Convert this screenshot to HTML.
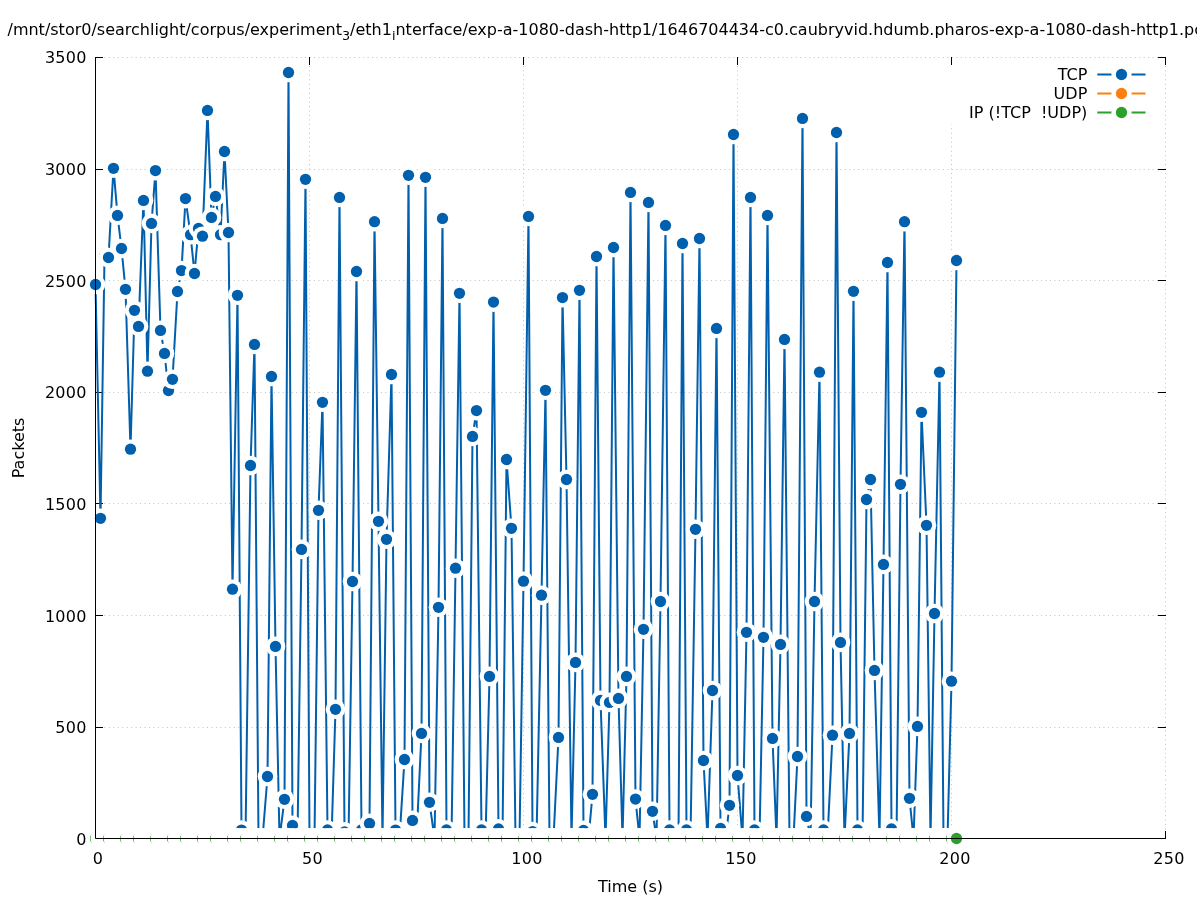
<!DOCTYPE html>
<html><head><meta charset="utf-8"><title>plot</title>
<style>
html,body{margin:0;padding:0;background:#fff;}
body{width:1197px;height:900px;overflow:hidden;}
svg{display:block;will-change:transform;}
text{font-family:"DejaVu Sans","Liberation Sans",sans-serif;fill:#000;}
</style></head><body>
<svg width="1197" height="900" viewBox="0 0 1197 900">
<rect x="0" y="0" width="1197" height="900" fill="#fff"/>
<g stroke="#c0c0c0" stroke-width="1" stroke-dasharray="1 3.46" fill="none">
<path d="M95.5 838.5H1165.5"/>
<path d="M95.5 727.5H1165.5"/>
<path d="M95.5 615.5H1165.5"/>
<path d="M95.5 503.5H1165.5"/>
<path d="M95.5 392.5H1165.5"/>
<path d="M95.5 280.5H1165.5"/>
<path d="M95.5 169.5H1165.5"/>
<path d="M95.5 57.5H1165.5"/>
<path d="M95.5 838.5V57.5"/>
<path d="M309.5 838.5V57.5"/>
<path d="M523.5 838.5V57.5"/>
<path d="M737.5 838.5V57.5"/>
<path d="M951.5 838.5V57.5"/>
<path d="M1165.5 838.5V57.5"/>
</g>
<g stroke="#000" stroke-width="1" fill="none">
<path d="M95.0 838.5h8M1166.0 838.5h-8"/>
<path d="M95.0 727.5h8M1166.0 727.5h-8"/>
<path d="M95.0 615.5h8M1166.0 615.5h-8"/>
<path d="M95.0 503.5h8M1166.0 503.5h-8"/>
<path d="M95.0 392.5h8M1166.0 392.5h-8"/>
<path d="M95.0 280.5h8M1166.0 280.5h-8"/>
<path d="M95.0 169.5h8M1166.0 169.5h-8"/>
<path d="M95.0 57.5h8M1166.0 57.5h-8"/>
<path d="M95.5 839.0v-8M95.5 57.0v8"/>
<path d="M309.5 839.0v-8M309.5 57.0v8"/>
<path d="M523.5 839.0v-8M523.5 57.0v8"/>
<path d="M737.5 839.0v-8M737.5 57.0v8"/>
<path d="M951.5 839.0v-8M951.5 57.0v8"/>
<path d="M1165.5 839.0v-8M1165.5 57.0v8"/>
</g>
<path d="M95.5 284.5 L100.5 518.3 L104.5 256.5 L108.5 257.5 L113.5 168.3 L117.5 215.4 L121.5 248.5 L125.5 289.3 L130.5 449.2 L134.5 310.3 L138.5 326.4 L143.5 200.4 L147.5 371.2 L151.5 223.4 L155.5 170.6 L160.5 330.4 L164.5 353.4 L168.5 390.5 L172.5 379.3 L177.5 291.5 L181.5 270.6 L185.5 198.6 L190.5 234.7 L194.5 273.5 L198.5 228.4 L202.5 236.2 L207.5 110.4 L211.5 217.4 L215.5 196.4 L220.5 234.7 L224.5 151.5 L228.5 232.5 L232.5 589.2 L237.5 295.3 L241.5 830.1 L245.5 838.5 L250.5 465.5 L254.5 344.4 L258.5 838.5 L262.5 838.5 L267.5 776.5 L271.5 376.5 L275.5 646.4 L279.5 838.5 L284.5 799.3 L288.5 72.5 L292.5 825.4 L297.5 838.5 L301.5 549.4 L305.5 179.3 L309.5 838.5 L314.5 838.5 L318.5 510.3 L322.5 402.3 L327.5 830 L331.5 838.5 L335.5 709.3 L339.5 197.4 L344.5 831.9 L348.5 838.5 L352.5 581.5 L356.5 271.5 L361.5 830 L365.5 838.5 L369.5 823.4 L374.5 221.7 L378.5 521.3 L382.5 838.5 L386.5 539.3 L391.5 374.5 L395.5 830.1 L399.5 838.5 L404.5 759.5 L408.5 175.3 L412.5 820.4 L416.5 838.5 L421.5 733.4 L425.5 177.3 L429.5 802.3 L434.5 838.5 L438.5 607.3 L442.5 218.4 L446.5 830 L451.5 838.5 L455.5 568.2 L459.5 293.3 L464.5 838.5 L468.5 838.5 L472.5 436.4 L476.5 410.6 L481.5 830 L485.5 838.5 L489.5 676.4 L493.5 302.1 L498.5 828.9 L502.5 838.5 L506.5 459.5 L511.5 528.3 L515.5 838.5 L519.5 838.5 L523.5 581.2 L528.5 216.4 L532.5 831.6 L536.5 838.5 L541.5 595.2 L545.5 390.3 L549.5 838.5 L553.5 838.5 L558.5 737.4 L562.5 297.6 L566.5 479.5 L571.5 838.5 L575.5 662.4 L579.5 290.3 L583.5 830.4 L588.5 838.5 L592.5 794.3 L596.5 256.5 L600.5 700.4 L605.5 838.5 L609.5 702.4 L613.5 247.5 L618.5 698.4 L622.5 838.5 L626.5 676.4 L630.5 192.4 L635.5 799.1 L639.5 838.5 L643.5 629.3 L648.5 202.4 L652.5 811.3 L656.5 838.5 L660.5 601.5 L665.5 225.4 L669.5 830 L673.5 838.5 L678.5 838.5 L682.5 243.5 L686.5 830 L690.5 838.5 L695.5 529.3 L699.5 238.5 L703.5 760.5 L707.5 838.5 L712.5 690.5 L716.5 328.4 L720.5 828.4 L725.5 838.5 L729.5 805.3 L733.5 134.5 L737.5 775.5 L742.5 838.5 L746.5 632.3 L750.5 197.4 L754.5 830 L759.5 838.5 L763.5 637.3 L767.5 215.4 L772.5 738.4 L776.5 838.5 L780.5 644.4 L784.5 339.4 L789.5 838.5 L793.5 838.5 L797.5 756.5 L802.5 118.4 L806.5 816.4 L810.5 838.5 L814.5 601.5 L819.5 372.2 L823.5 830 L827.5 838.5 L832.5 735.2 L836.5 132.5 L840.5 642.4 L844.5 838.5 L849.5 733.4 L853.5 291.3 L857.5 830 L862.5 838.5 L866.5 499.5 L870.5 479.5 L874.5 670.4 L879.5 838.5 L883.5 564.4 L887.5 262.5 L891.5 828.9 L896.5 838.5 L900.5 484.3 L904.5 221.7 L909.5 798.3 L913.5 838.5 L917.5 726.4 L921.5 412.3 L926.5 525.3 L930.5 838.5 L934.5 613.5 L939.5 372.2 L943.5 838.5 L947.5 838.5 L951.5 681.2 L956.5 260.5" fill="none" stroke="#0060ad" stroke-width="2" stroke-linejoin="round"/>
<g fill="#0060ad">
<circle cx="95.5" cy="284.5" r="9.8" fill="#fff"/><circle cx="95.5" cy="284.5" r="5.64"/>
<circle cx="100.5" cy="518.3" r="9.8" fill="#fff"/><circle cx="100.5" cy="518.3" r="5.64"/>
<circle cx="104.5" cy="256.5" r="9.8" fill="#fff"/><circle cx="104.5" cy="256.5" r="5.64"/>
<circle cx="108.5" cy="257.5" r="9.8" fill="#fff"/><circle cx="108.5" cy="257.5" r="5.64"/>
<circle cx="113.5" cy="168.3" r="9.8" fill="#fff"/><circle cx="113.5" cy="168.3" r="5.64"/>
<circle cx="117.5" cy="215.4" r="9.8" fill="#fff"/><circle cx="117.5" cy="215.4" r="5.64"/>
<circle cx="121.5" cy="248.5" r="9.8" fill="#fff"/><circle cx="121.5" cy="248.5" r="5.64"/>
<circle cx="125.5" cy="289.3" r="9.8" fill="#fff"/><circle cx="125.5" cy="289.3" r="5.64"/>
<circle cx="130.5" cy="449.2" r="9.8" fill="#fff"/><circle cx="130.5" cy="449.2" r="5.64"/>
<circle cx="134.5" cy="310.3" r="9.8" fill="#fff"/><circle cx="134.5" cy="310.3" r="5.64"/>
<circle cx="138.5" cy="326.4" r="9.8" fill="#fff"/><circle cx="138.5" cy="326.4" r="5.64"/>
<circle cx="143.5" cy="200.4" r="9.8" fill="#fff"/><circle cx="143.5" cy="200.4" r="5.64"/>
<circle cx="147.5" cy="371.2" r="9.8" fill="#fff"/><circle cx="147.5" cy="371.2" r="5.64"/>
<circle cx="151.5" cy="223.4" r="9.8" fill="#fff"/><circle cx="151.5" cy="223.4" r="5.64"/>
<circle cx="155.5" cy="170.6" r="9.8" fill="#fff"/><circle cx="155.5" cy="170.6" r="5.64"/>
<circle cx="160.5" cy="330.4" r="9.8" fill="#fff"/><circle cx="160.5" cy="330.4" r="5.64"/>
<circle cx="164.5" cy="353.4" r="9.8" fill="#fff"/><circle cx="164.5" cy="353.4" r="5.64"/>
<circle cx="168.5" cy="390.5" r="9.8" fill="#fff"/><circle cx="168.5" cy="390.5" r="5.64"/>
<circle cx="172.5" cy="379.3" r="9.8" fill="#fff"/><circle cx="172.5" cy="379.3" r="5.64"/>
<circle cx="177.5" cy="291.5" r="9.8" fill="#fff"/><circle cx="177.5" cy="291.5" r="5.64"/>
<circle cx="181.5" cy="270.6" r="9.8" fill="#fff"/><circle cx="181.5" cy="270.6" r="5.64"/>
<circle cx="185.5" cy="198.6" r="9.8" fill="#fff"/><circle cx="185.5" cy="198.6" r="5.64"/>
<circle cx="190.5" cy="234.7" r="9.8" fill="#fff"/><circle cx="190.5" cy="234.7" r="5.64"/>
<circle cx="194.5" cy="273.5" r="9.8" fill="#fff"/><circle cx="194.5" cy="273.5" r="5.64"/>
<circle cx="198.5" cy="228.4" r="9.8" fill="#fff"/><circle cx="198.5" cy="228.4" r="5.64"/>
<circle cx="202.5" cy="236.2" r="9.8" fill="#fff"/><circle cx="202.5" cy="236.2" r="5.64"/>
<circle cx="207.5" cy="110.4" r="9.8" fill="#fff"/><circle cx="207.5" cy="110.4" r="5.64"/>
<circle cx="211.5" cy="217.4" r="9.8" fill="#fff"/><circle cx="211.5" cy="217.4" r="5.64"/>
<circle cx="215.5" cy="196.4" r="9.8" fill="#fff"/><circle cx="215.5" cy="196.4" r="5.64"/>
<circle cx="220.5" cy="234.7" r="9.8" fill="#fff"/><circle cx="220.5" cy="234.7" r="5.64"/>
<circle cx="224.5" cy="151.5" r="9.8" fill="#fff"/><circle cx="224.5" cy="151.5" r="5.64"/>
<circle cx="228.5" cy="232.5" r="9.8" fill="#fff"/><circle cx="228.5" cy="232.5" r="5.64"/>
<circle cx="232.5" cy="589.2" r="9.8" fill="#fff"/><circle cx="232.5" cy="589.2" r="5.64"/>
<circle cx="237.5" cy="295.3" r="9.8" fill="#fff"/><circle cx="237.5" cy="295.3" r="5.64"/>
<circle cx="241.5" cy="830.1" r="9.8" fill="#fff"/><circle cx="241.5" cy="830.1" r="5.64"/>
<circle cx="245.5" cy="838.5" r="9.8" fill="#fff"/><circle cx="245.5" cy="838.5" r="5.64"/>
<circle cx="250.5" cy="465.5" r="9.8" fill="#fff"/><circle cx="250.5" cy="465.5" r="5.64"/>
<circle cx="254.5" cy="344.4" r="9.8" fill="#fff"/><circle cx="254.5" cy="344.4" r="5.64"/>
<circle cx="258.5" cy="838.5" r="9.8" fill="#fff"/><circle cx="258.5" cy="838.5" r="5.64"/>
<circle cx="262.5" cy="838.5" r="9.8" fill="#fff"/><circle cx="262.5" cy="838.5" r="5.64"/>
<circle cx="267.5" cy="776.5" r="9.8" fill="#fff"/><circle cx="267.5" cy="776.5" r="5.64"/>
<circle cx="271.5" cy="376.5" r="9.8" fill="#fff"/><circle cx="271.5" cy="376.5" r="5.64"/>
<circle cx="275.5" cy="646.4" r="9.8" fill="#fff"/><circle cx="275.5" cy="646.4" r="5.64"/>
<circle cx="279.5" cy="838.5" r="9.8" fill="#fff"/><circle cx="279.5" cy="838.5" r="5.64"/>
<circle cx="284.5" cy="799.3" r="9.8" fill="#fff"/><circle cx="284.5" cy="799.3" r="5.64"/>
<circle cx="288.5" cy="72.5" r="9.8" fill="#fff"/><circle cx="288.5" cy="72.5" r="5.64"/>
<circle cx="292.5" cy="825.4" r="9.8" fill="#fff"/><circle cx="292.5" cy="825.4" r="5.64"/>
<circle cx="297.5" cy="838.5" r="9.8" fill="#fff"/><circle cx="297.5" cy="838.5" r="5.64"/>
<circle cx="301.5" cy="549.4" r="9.8" fill="#fff"/><circle cx="301.5" cy="549.4" r="5.64"/>
<circle cx="305.5" cy="179.3" r="9.8" fill="#fff"/><circle cx="305.5" cy="179.3" r="5.64"/>
<circle cx="309.5" cy="838.5" r="9.8" fill="#fff"/><circle cx="309.5" cy="838.5" r="5.64"/>
<circle cx="314.5" cy="838.5" r="9.8" fill="#fff"/><circle cx="314.5" cy="838.5" r="5.64"/>
<circle cx="318.5" cy="510.3" r="9.8" fill="#fff"/><circle cx="318.5" cy="510.3" r="5.64"/>
<circle cx="322.5" cy="402.3" r="9.8" fill="#fff"/><circle cx="322.5" cy="402.3" r="5.64"/>
<circle cx="327.5" cy="830" r="9.8" fill="#fff"/><circle cx="327.5" cy="830" r="5.64"/>
<circle cx="331.5" cy="838.5" r="9.8" fill="#fff"/><circle cx="331.5" cy="838.5" r="5.64"/>
<circle cx="335.5" cy="709.3" r="9.8" fill="#fff"/><circle cx="335.5" cy="709.3" r="5.64"/>
<circle cx="339.5" cy="197.4" r="9.8" fill="#fff"/><circle cx="339.5" cy="197.4" r="5.64"/>
<circle cx="344.5" cy="831.9" r="9.8" fill="#fff"/><circle cx="344.5" cy="831.9" r="5.64"/>
<circle cx="348.5" cy="838.5" r="9.8" fill="#fff"/><circle cx="348.5" cy="838.5" r="5.64"/>
<circle cx="352.5" cy="581.5" r="9.8" fill="#fff"/><circle cx="352.5" cy="581.5" r="5.64"/>
<circle cx="356.5" cy="271.5" r="9.8" fill="#fff"/><circle cx="356.5" cy="271.5" r="5.64"/>
<circle cx="361.5" cy="830" r="9.8" fill="#fff"/><circle cx="361.5" cy="830" r="5.64"/>
<circle cx="365.5" cy="838.5" r="9.8" fill="#fff"/><circle cx="365.5" cy="838.5" r="5.64"/>
<circle cx="369.5" cy="823.4" r="9.8" fill="#fff"/><circle cx="369.5" cy="823.4" r="5.64"/>
<circle cx="374.5" cy="221.7" r="9.8" fill="#fff"/><circle cx="374.5" cy="221.7" r="5.64"/>
<circle cx="378.5" cy="521.3" r="9.8" fill="#fff"/><circle cx="378.5" cy="521.3" r="5.64"/>
<circle cx="382.5" cy="838.5" r="9.8" fill="#fff"/><circle cx="382.5" cy="838.5" r="5.64"/>
<circle cx="386.5" cy="539.3" r="9.8" fill="#fff"/><circle cx="386.5" cy="539.3" r="5.64"/>
<circle cx="391.5" cy="374.5" r="9.8" fill="#fff"/><circle cx="391.5" cy="374.5" r="5.64"/>
<circle cx="395.5" cy="830.1" r="9.8" fill="#fff"/><circle cx="395.5" cy="830.1" r="5.64"/>
<circle cx="399.5" cy="838.5" r="9.8" fill="#fff"/><circle cx="399.5" cy="838.5" r="5.64"/>
<circle cx="404.5" cy="759.5" r="9.8" fill="#fff"/><circle cx="404.5" cy="759.5" r="5.64"/>
<circle cx="408.5" cy="175.3" r="9.8" fill="#fff"/><circle cx="408.5" cy="175.3" r="5.64"/>
<circle cx="412.5" cy="820.4" r="9.8" fill="#fff"/><circle cx="412.5" cy="820.4" r="5.64"/>
<circle cx="416.5" cy="838.5" r="9.8" fill="#fff"/><circle cx="416.5" cy="838.5" r="5.64"/>
<circle cx="421.5" cy="733.4" r="9.8" fill="#fff"/><circle cx="421.5" cy="733.4" r="5.64"/>
<circle cx="425.5" cy="177.3" r="9.8" fill="#fff"/><circle cx="425.5" cy="177.3" r="5.64"/>
<circle cx="429.5" cy="802.3" r="9.8" fill="#fff"/><circle cx="429.5" cy="802.3" r="5.64"/>
<circle cx="434.5" cy="838.5" r="9.8" fill="#fff"/><circle cx="434.5" cy="838.5" r="5.64"/>
<circle cx="438.5" cy="607.3" r="9.8" fill="#fff"/><circle cx="438.5" cy="607.3" r="5.64"/>
<circle cx="442.5" cy="218.4" r="9.8" fill="#fff"/><circle cx="442.5" cy="218.4" r="5.64"/>
<circle cx="446.5" cy="830" r="9.8" fill="#fff"/><circle cx="446.5" cy="830" r="5.64"/>
<circle cx="451.5" cy="838.5" r="9.8" fill="#fff"/><circle cx="451.5" cy="838.5" r="5.64"/>
<circle cx="455.5" cy="568.2" r="9.8" fill="#fff"/><circle cx="455.5" cy="568.2" r="5.64"/>
<circle cx="459.5" cy="293.3" r="9.8" fill="#fff"/><circle cx="459.5" cy="293.3" r="5.64"/>
<circle cx="464.5" cy="838.5" r="9.8" fill="#fff"/><circle cx="464.5" cy="838.5" r="5.64"/>
<circle cx="468.5" cy="838.5" r="9.8" fill="#fff"/><circle cx="468.5" cy="838.5" r="5.64"/>
<circle cx="472.5" cy="436.4" r="9.8" fill="#fff"/><circle cx="472.5" cy="436.4" r="5.64"/>
<circle cx="476.5" cy="410.6" r="9.8" fill="#fff"/><circle cx="476.5" cy="410.6" r="5.64"/>
<circle cx="481.5" cy="830" r="9.8" fill="#fff"/><circle cx="481.5" cy="830" r="5.64"/>
<circle cx="485.5" cy="838.5" r="9.8" fill="#fff"/><circle cx="485.5" cy="838.5" r="5.64"/>
<circle cx="489.5" cy="676.4" r="9.8" fill="#fff"/><circle cx="489.5" cy="676.4" r="5.64"/>
<circle cx="493.5" cy="302.1" r="9.8" fill="#fff"/><circle cx="493.5" cy="302.1" r="5.64"/>
<circle cx="498.5" cy="828.9" r="9.8" fill="#fff"/><circle cx="498.5" cy="828.9" r="5.64"/>
<circle cx="502.5" cy="838.5" r="9.8" fill="#fff"/><circle cx="502.5" cy="838.5" r="5.64"/>
<circle cx="506.5" cy="459.5" r="9.8" fill="#fff"/><circle cx="506.5" cy="459.5" r="5.64"/>
<circle cx="511.5" cy="528.3" r="9.8" fill="#fff"/><circle cx="511.5" cy="528.3" r="5.64"/>
<circle cx="515.5" cy="838.5" r="9.8" fill="#fff"/><circle cx="515.5" cy="838.5" r="5.64"/>
<circle cx="519.5" cy="838.5" r="9.8" fill="#fff"/><circle cx="519.5" cy="838.5" r="5.64"/>
<circle cx="523.5" cy="581.2" r="9.8" fill="#fff"/><circle cx="523.5" cy="581.2" r="5.64"/>
<circle cx="528.5" cy="216.4" r="9.8" fill="#fff"/><circle cx="528.5" cy="216.4" r="5.64"/>
<circle cx="532.5" cy="831.6" r="9.8" fill="#fff"/><circle cx="532.5" cy="831.6" r="5.64"/>
<circle cx="536.5" cy="838.5" r="9.8" fill="#fff"/><circle cx="536.5" cy="838.5" r="5.64"/>
<circle cx="541.5" cy="595.2" r="9.8" fill="#fff"/><circle cx="541.5" cy="595.2" r="5.64"/>
<circle cx="545.5" cy="390.3" r="9.8" fill="#fff"/><circle cx="545.5" cy="390.3" r="5.64"/>
<circle cx="549.5" cy="838.5" r="9.8" fill="#fff"/><circle cx="549.5" cy="838.5" r="5.64"/>
<circle cx="553.5" cy="838.5" r="9.8" fill="#fff"/><circle cx="553.5" cy="838.5" r="5.64"/>
<circle cx="558.5" cy="737.4" r="9.8" fill="#fff"/><circle cx="558.5" cy="737.4" r="5.64"/>
<circle cx="562.5" cy="297.6" r="9.8" fill="#fff"/><circle cx="562.5" cy="297.6" r="5.64"/>
<circle cx="566.5" cy="479.5" r="9.8" fill="#fff"/><circle cx="566.5" cy="479.5" r="5.64"/>
<circle cx="571.5" cy="838.5" r="9.8" fill="#fff"/><circle cx="571.5" cy="838.5" r="5.64"/>
<circle cx="575.5" cy="662.4" r="9.8" fill="#fff"/><circle cx="575.5" cy="662.4" r="5.64"/>
<circle cx="579.5" cy="290.3" r="9.8" fill="#fff"/><circle cx="579.5" cy="290.3" r="5.64"/>
<circle cx="583.5" cy="830.4" r="9.8" fill="#fff"/><circle cx="583.5" cy="830.4" r="5.64"/>
<circle cx="588.5" cy="838.5" r="9.8" fill="#fff"/><circle cx="588.5" cy="838.5" r="5.64"/>
<circle cx="592.5" cy="794.3" r="9.8" fill="#fff"/><circle cx="592.5" cy="794.3" r="5.64"/>
<circle cx="596.5" cy="256.5" r="9.8" fill="#fff"/><circle cx="596.5" cy="256.5" r="5.64"/>
<circle cx="600.5" cy="700.4" r="9.8" fill="#fff"/><circle cx="600.5" cy="700.4" r="5.64"/>
<circle cx="605.5" cy="838.5" r="9.8" fill="#fff"/><circle cx="605.5" cy="838.5" r="5.64"/>
<circle cx="609.5" cy="702.4" r="9.8" fill="#fff"/><circle cx="609.5" cy="702.4" r="5.64"/>
<circle cx="613.5" cy="247.5" r="9.8" fill="#fff"/><circle cx="613.5" cy="247.5" r="5.64"/>
<circle cx="618.5" cy="698.4" r="9.8" fill="#fff"/><circle cx="618.5" cy="698.4" r="5.64"/>
<circle cx="622.5" cy="838.5" r="9.8" fill="#fff"/><circle cx="622.5" cy="838.5" r="5.64"/>
<circle cx="626.5" cy="676.4" r="9.8" fill="#fff"/><circle cx="626.5" cy="676.4" r="5.64"/>
<circle cx="630.5" cy="192.4" r="9.8" fill="#fff"/><circle cx="630.5" cy="192.4" r="5.64"/>
<circle cx="635.5" cy="799.1" r="9.8" fill="#fff"/><circle cx="635.5" cy="799.1" r="5.64"/>
<circle cx="639.5" cy="838.5" r="9.8" fill="#fff"/><circle cx="639.5" cy="838.5" r="5.64"/>
<circle cx="643.5" cy="629.3" r="9.8" fill="#fff"/><circle cx="643.5" cy="629.3" r="5.64"/>
<circle cx="648.5" cy="202.4" r="9.8" fill="#fff"/><circle cx="648.5" cy="202.4" r="5.64"/>
<circle cx="652.5" cy="811.3" r="9.8" fill="#fff"/><circle cx="652.5" cy="811.3" r="5.64"/>
<circle cx="656.5" cy="838.5" r="9.8" fill="#fff"/><circle cx="656.5" cy="838.5" r="5.64"/>
<circle cx="660.5" cy="601.5" r="9.8" fill="#fff"/><circle cx="660.5" cy="601.5" r="5.64"/>
<circle cx="665.5" cy="225.4" r="9.8" fill="#fff"/><circle cx="665.5" cy="225.4" r="5.64"/>
<circle cx="669.5" cy="830" r="9.8" fill="#fff"/><circle cx="669.5" cy="830" r="5.64"/>
<circle cx="673.5" cy="838.5" r="9.8" fill="#fff"/><circle cx="673.5" cy="838.5" r="5.64"/>
<circle cx="678.5" cy="838.5" r="9.8" fill="#fff"/><circle cx="678.5" cy="838.5" r="5.64"/>
<circle cx="682.5" cy="243.5" r="9.8" fill="#fff"/><circle cx="682.5" cy="243.5" r="5.64"/>
<circle cx="686.5" cy="830" r="9.8" fill="#fff"/><circle cx="686.5" cy="830" r="5.64"/>
<circle cx="690.5" cy="838.5" r="9.8" fill="#fff"/><circle cx="690.5" cy="838.5" r="5.64"/>
<circle cx="695.5" cy="529.3" r="9.8" fill="#fff"/><circle cx="695.5" cy="529.3" r="5.64"/>
<circle cx="699.5" cy="238.5" r="9.8" fill="#fff"/><circle cx="699.5" cy="238.5" r="5.64"/>
<circle cx="703.5" cy="760.5" r="9.8" fill="#fff"/><circle cx="703.5" cy="760.5" r="5.64"/>
<circle cx="707.5" cy="838.5" r="9.8" fill="#fff"/><circle cx="707.5" cy="838.5" r="5.64"/>
<circle cx="712.5" cy="690.5" r="9.8" fill="#fff"/><circle cx="712.5" cy="690.5" r="5.64"/>
<circle cx="716.5" cy="328.4" r="9.8" fill="#fff"/><circle cx="716.5" cy="328.4" r="5.64"/>
<circle cx="720.5" cy="828.4" r="9.8" fill="#fff"/><circle cx="720.5" cy="828.4" r="5.64"/>
<circle cx="725.5" cy="838.5" r="9.8" fill="#fff"/><circle cx="725.5" cy="838.5" r="5.64"/>
<circle cx="729.5" cy="805.3" r="9.8" fill="#fff"/><circle cx="729.5" cy="805.3" r="5.64"/>
<circle cx="733.5" cy="134.5" r="9.8" fill="#fff"/><circle cx="733.5" cy="134.5" r="5.64"/>
<circle cx="737.5" cy="775.5" r="9.8" fill="#fff"/><circle cx="737.5" cy="775.5" r="5.64"/>
<circle cx="742.5" cy="838.5" r="9.8" fill="#fff"/><circle cx="742.5" cy="838.5" r="5.64"/>
<circle cx="746.5" cy="632.3" r="9.8" fill="#fff"/><circle cx="746.5" cy="632.3" r="5.64"/>
<circle cx="750.5" cy="197.4" r="9.8" fill="#fff"/><circle cx="750.5" cy="197.4" r="5.64"/>
<circle cx="754.5" cy="830" r="9.8" fill="#fff"/><circle cx="754.5" cy="830" r="5.64"/>
<circle cx="759.5" cy="838.5" r="9.8" fill="#fff"/><circle cx="759.5" cy="838.5" r="5.64"/>
<circle cx="763.5" cy="637.3" r="9.8" fill="#fff"/><circle cx="763.5" cy="637.3" r="5.64"/>
<circle cx="767.5" cy="215.4" r="9.8" fill="#fff"/><circle cx="767.5" cy="215.4" r="5.64"/>
<circle cx="772.5" cy="738.4" r="9.8" fill="#fff"/><circle cx="772.5" cy="738.4" r="5.64"/>
<circle cx="776.5" cy="838.5" r="9.8" fill="#fff"/><circle cx="776.5" cy="838.5" r="5.64"/>
<circle cx="780.5" cy="644.4" r="9.8" fill="#fff"/><circle cx="780.5" cy="644.4" r="5.64"/>
<circle cx="784.5" cy="339.4" r="9.8" fill="#fff"/><circle cx="784.5" cy="339.4" r="5.64"/>
<circle cx="789.5" cy="838.5" r="9.8" fill="#fff"/><circle cx="789.5" cy="838.5" r="5.64"/>
<circle cx="793.5" cy="838.5" r="9.8" fill="#fff"/><circle cx="793.5" cy="838.5" r="5.64"/>
<circle cx="797.5" cy="756.5" r="9.8" fill="#fff"/><circle cx="797.5" cy="756.5" r="5.64"/>
<circle cx="802.5" cy="118.4" r="9.8" fill="#fff"/><circle cx="802.5" cy="118.4" r="5.64"/>
<circle cx="806.5" cy="816.4" r="9.8" fill="#fff"/><circle cx="806.5" cy="816.4" r="5.64"/>
<circle cx="810.5" cy="838.5" r="9.8" fill="#fff"/><circle cx="810.5" cy="838.5" r="5.64"/>
<circle cx="814.5" cy="601.5" r="9.8" fill="#fff"/><circle cx="814.5" cy="601.5" r="5.64"/>
<circle cx="819.5" cy="372.2" r="9.8" fill="#fff"/><circle cx="819.5" cy="372.2" r="5.64"/>
<circle cx="823.5" cy="830" r="9.8" fill="#fff"/><circle cx="823.5" cy="830" r="5.64"/>
<circle cx="827.5" cy="838.5" r="9.8" fill="#fff"/><circle cx="827.5" cy="838.5" r="5.64"/>
<circle cx="832.5" cy="735.2" r="9.8" fill="#fff"/><circle cx="832.5" cy="735.2" r="5.64"/>
<circle cx="836.5" cy="132.5" r="9.8" fill="#fff"/><circle cx="836.5" cy="132.5" r="5.64"/>
<circle cx="840.5" cy="642.4" r="9.8" fill="#fff"/><circle cx="840.5" cy="642.4" r="5.64"/>
<circle cx="844.5" cy="838.5" r="9.8" fill="#fff"/><circle cx="844.5" cy="838.5" r="5.64"/>
<circle cx="849.5" cy="733.4" r="9.8" fill="#fff"/><circle cx="849.5" cy="733.4" r="5.64"/>
<circle cx="853.5" cy="291.3" r="9.8" fill="#fff"/><circle cx="853.5" cy="291.3" r="5.64"/>
<circle cx="857.5" cy="830" r="9.8" fill="#fff"/><circle cx="857.5" cy="830" r="5.64"/>
<circle cx="862.5" cy="838.5" r="9.8" fill="#fff"/><circle cx="862.5" cy="838.5" r="5.64"/>
<circle cx="866.5" cy="499.5" r="9.8" fill="#fff"/><circle cx="866.5" cy="499.5" r="5.64"/>
<circle cx="870.5" cy="479.5" r="9.8" fill="#fff"/><circle cx="870.5" cy="479.5" r="5.64"/>
<circle cx="874.5" cy="670.4" r="9.8" fill="#fff"/><circle cx="874.5" cy="670.4" r="5.64"/>
<circle cx="879.5" cy="838.5" r="9.8" fill="#fff"/><circle cx="879.5" cy="838.5" r="5.64"/>
<circle cx="883.5" cy="564.4" r="9.8" fill="#fff"/><circle cx="883.5" cy="564.4" r="5.64"/>
<circle cx="887.5" cy="262.5" r="9.8" fill="#fff"/><circle cx="887.5" cy="262.5" r="5.64"/>
<circle cx="891.5" cy="828.9" r="9.8" fill="#fff"/><circle cx="891.5" cy="828.9" r="5.64"/>
<circle cx="896.5" cy="838.5" r="9.8" fill="#fff"/><circle cx="896.5" cy="838.5" r="5.64"/>
<circle cx="900.5" cy="484.3" r="9.8" fill="#fff"/><circle cx="900.5" cy="484.3" r="5.64"/>
<circle cx="904.5" cy="221.7" r="9.8" fill="#fff"/><circle cx="904.5" cy="221.7" r="5.64"/>
<circle cx="909.5" cy="798.3" r="9.8" fill="#fff"/><circle cx="909.5" cy="798.3" r="5.64"/>
<circle cx="913.5" cy="838.5" r="9.8" fill="#fff"/><circle cx="913.5" cy="838.5" r="5.64"/>
<circle cx="917.5" cy="726.4" r="9.8" fill="#fff"/><circle cx="917.5" cy="726.4" r="5.64"/>
<circle cx="921.5" cy="412.3" r="9.8" fill="#fff"/><circle cx="921.5" cy="412.3" r="5.64"/>
<circle cx="926.5" cy="525.3" r="9.8" fill="#fff"/><circle cx="926.5" cy="525.3" r="5.64"/>
<circle cx="930.5" cy="838.5" r="9.8" fill="#fff"/><circle cx="930.5" cy="838.5" r="5.64"/>
<circle cx="934.5" cy="613.5" r="9.8" fill="#fff"/><circle cx="934.5" cy="613.5" r="5.64"/>
<circle cx="939.5" cy="372.2" r="9.8" fill="#fff"/><circle cx="939.5" cy="372.2" r="5.64"/>
<circle cx="943.5" cy="838.5" r="9.8" fill="#fff"/><circle cx="943.5" cy="838.5" r="5.64"/>
<circle cx="947.5" cy="838.5" r="9.8" fill="#fff"/><circle cx="947.5" cy="838.5" r="5.64"/>
<circle cx="951.5" cy="681.2" r="9.8" fill="#fff"/><circle cx="951.5" cy="681.2" r="5.64"/>
<circle cx="956.5" cy="260.5" r="9.8" fill="#fff"/><circle cx="956.5" cy="260.5" r="5.64"/>
</g>
<path d="M95.5 838 L100.5 838 L104.5 838 L108.5 838 L113.5 838 L117.5 838 L121.5 838 L125.5 838 L130.5 838 L134.5 838 L138.5 838 L143.5 838 L147.5 838 L151.5 838 L155.5 838 L160.5 838 L164.5 838 L168.5 838 L172.5 838 L177.5 838 L181.5 838 L185.5 838 L190.5 838 L194.5 838 L198.5 838 L202.5 838 L207.5 838 L211.5 838 L215.5 838 L220.5 838 L224.5 838 L228.5 838 L232.5 838 L237.5 838 L241.5 838 L245.5 838 L250.5 838 L254.5 838 L258.5 838 L262.5 838 L267.5 838 L271.5 838 L275.5 838 L279.5 838 L284.5 838 L288.5 838 L292.5 838 L297.5 838 L301.5 838 L305.5 838 L309.5 838 L314.5 838 L318.5 838 L322.5 838 L327.5 838 L331.5 838 L335.5 838 L339.5 838 L344.5 838 L348.5 838 L352.5 838 L356.5 838 L361.5 838 L365.5 838 L369.5 838 L374.5 838 L378.5 838 L382.5 838 L386.5 838 L391.5 838 L395.5 838 L399.5 838 L404.5 838 L408.5 838 L412.5 838 L416.5 838 L421.5 838 L425.5 838 L429.5 838 L434.5 838 L438.5 838 L442.5 838 L446.5 838 L451.5 838 L455.5 838 L459.5 838 L464.5 838 L468.5 838 L472.5 838 L476.5 838 L481.5 838 L485.5 838 L489.5 838 L493.5 838 L498.5 838 L502.5 838 L506.5 838 L511.5 838 L515.5 838 L519.5 838 L523.5 838 L528.5 838 L532.5 838 L536.5 838 L541.5 838 L545.5 838 L549.5 838 L553.5 838 L558.5 838 L562.5 838 L566.5 838 L571.5 838 L575.5 838 L579.5 838 L583.5 838 L588.5 838 L592.5 838 L596.5 838 L600.5 838 L605.5 838 L609.5 838 L613.5 838 L618.5 838 L622.5 838 L626.5 838 L630.5 838 L635.5 838 L639.5 838 L643.5 838 L648.5 838 L652.5 838 L656.5 838 L660.5 838 L665.5 838 L669.5 838 L673.5 838 L678.5 838 L682.5 838 L686.5 838 L690.5 838 L695.5 838 L699.5 838 L703.5 838 L707.5 838 L712.5 838 L716.5 838 L720.5 838 L725.5 838 L729.5 838 L733.5 838 L737.5 838 L742.5 838 L746.5 838 L750.5 838 L754.5 838 L759.5 838 L763.5 838 L767.5 838 L772.5 838 L776.5 838 L780.5 838 L784.5 838 L789.5 838 L793.5 838 L797.5 838 L802.5 838 L806.5 838 L810.5 838 L814.5 838 L819.5 838 L823.5 838 L827.5 838 L832.5 838 L836.5 838 L840.5 838 L844.5 838 L849.5 838 L853.5 838 L857.5 838 L862.5 838 L866.5 838 L870.5 838 L874.5 838 L879.5 838 L883.5 838 L887.5 838 L891.5 838 L896.5 838 L900.5 838 L904.5 838 L909.5 838 L913.5 838 L917.5 838 L921.5 838 L926.5 838 L930.5 838 L934.5 838 L939.5 838 L943.5 838 L947.5 838 L951.5 838 L956.5 838" fill="none" stroke="#ff7f0e" stroke-width="2" stroke-linejoin="round"/>
<g fill="#ff7f0e">
<circle cx="95.5" cy="838" r="10.0" fill="#fff"/><circle cx="95.5" cy="838" r="5.64"/>
<circle cx="100.5" cy="838" r="10.0" fill="#fff"/><circle cx="100.5" cy="838" r="5.64"/>
<circle cx="104.5" cy="838" r="10.0" fill="#fff"/><circle cx="104.5" cy="838" r="5.64"/>
<circle cx="108.5" cy="838" r="10.0" fill="#fff"/><circle cx="108.5" cy="838" r="5.64"/>
<circle cx="113.5" cy="838" r="10.0" fill="#fff"/><circle cx="113.5" cy="838" r="5.64"/>
<circle cx="117.5" cy="838" r="10.0" fill="#fff"/><circle cx="117.5" cy="838" r="5.64"/>
<circle cx="121.5" cy="838" r="10.0" fill="#fff"/><circle cx="121.5" cy="838" r="5.64"/>
<circle cx="125.5" cy="838" r="10.0" fill="#fff"/><circle cx="125.5" cy="838" r="5.64"/>
<circle cx="130.5" cy="838" r="10.0" fill="#fff"/><circle cx="130.5" cy="838" r="5.64"/>
<circle cx="134.5" cy="838" r="10.0" fill="#fff"/><circle cx="134.5" cy="838" r="5.64"/>
<circle cx="138.5" cy="838" r="10.0" fill="#fff"/><circle cx="138.5" cy="838" r="5.64"/>
<circle cx="143.5" cy="838" r="10.0" fill="#fff"/><circle cx="143.5" cy="838" r="5.64"/>
<circle cx="147.5" cy="838" r="10.0" fill="#fff"/><circle cx="147.5" cy="838" r="5.64"/>
<circle cx="151.5" cy="838" r="10.0" fill="#fff"/><circle cx="151.5" cy="838" r="5.64"/>
<circle cx="155.5" cy="838" r="10.0" fill="#fff"/><circle cx="155.5" cy="838" r="5.64"/>
<circle cx="160.5" cy="838" r="10.0" fill="#fff"/><circle cx="160.5" cy="838" r="5.64"/>
<circle cx="164.5" cy="838" r="10.0" fill="#fff"/><circle cx="164.5" cy="838" r="5.64"/>
<circle cx="168.5" cy="838" r="10.0" fill="#fff"/><circle cx="168.5" cy="838" r="5.64"/>
<circle cx="172.5" cy="838" r="10.0" fill="#fff"/><circle cx="172.5" cy="838" r="5.64"/>
<circle cx="177.5" cy="838" r="10.0" fill="#fff"/><circle cx="177.5" cy="838" r="5.64"/>
<circle cx="181.5" cy="838" r="10.0" fill="#fff"/><circle cx="181.5" cy="838" r="5.64"/>
<circle cx="185.5" cy="838" r="10.0" fill="#fff"/><circle cx="185.5" cy="838" r="5.64"/>
<circle cx="190.5" cy="838" r="10.0" fill="#fff"/><circle cx="190.5" cy="838" r="5.64"/>
<circle cx="194.5" cy="838" r="10.0" fill="#fff"/><circle cx="194.5" cy="838" r="5.64"/>
<circle cx="198.5" cy="838" r="10.0" fill="#fff"/><circle cx="198.5" cy="838" r="5.64"/>
<circle cx="202.5" cy="838" r="10.0" fill="#fff"/><circle cx="202.5" cy="838" r="5.64"/>
<circle cx="207.5" cy="838" r="10.0" fill="#fff"/><circle cx="207.5" cy="838" r="5.64"/>
<circle cx="211.5" cy="838" r="10.0" fill="#fff"/><circle cx="211.5" cy="838" r="5.64"/>
<circle cx="215.5" cy="838" r="10.0" fill="#fff"/><circle cx="215.5" cy="838" r="5.64"/>
<circle cx="220.5" cy="838" r="10.0" fill="#fff"/><circle cx="220.5" cy="838" r="5.64"/>
<circle cx="224.5" cy="838" r="10.0" fill="#fff"/><circle cx="224.5" cy="838" r="5.64"/>
<circle cx="228.5" cy="838" r="10.0" fill="#fff"/><circle cx="228.5" cy="838" r="5.64"/>
<circle cx="232.5" cy="838" r="10.0" fill="#fff"/><circle cx="232.5" cy="838" r="5.64"/>
<circle cx="237.5" cy="838" r="10.0" fill="#fff"/><circle cx="237.5" cy="838" r="5.64"/>
<circle cx="241.5" cy="838" r="10.0" fill="#fff"/><circle cx="241.5" cy="838" r="5.64"/>
<circle cx="245.5" cy="838" r="10.0" fill="#fff"/><circle cx="245.5" cy="838" r="5.64"/>
<circle cx="250.5" cy="838" r="10.0" fill="#fff"/><circle cx="250.5" cy="838" r="5.64"/>
<circle cx="254.5" cy="838" r="10.0" fill="#fff"/><circle cx="254.5" cy="838" r="5.64"/>
<circle cx="258.5" cy="838" r="10.0" fill="#fff"/><circle cx="258.5" cy="838" r="5.64"/>
<circle cx="262.5" cy="838" r="10.0" fill="#fff"/><circle cx="262.5" cy="838" r="5.64"/>
<circle cx="267.5" cy="838" r="10.0" fill="#fff"/><circle cx="267.5" cy="838" r="5.64"/>
<circle cx="271.5" cy="838" r="10.0" fill="#fff"/><circle cx="271.5" cy="838" r="5.64"/>
<circle cx="275.5" cy="838" r="10.0" fill="#fff"/><circle cx="275.5" cy="838" r="5.64"/>
<circle cx="279.5" cy="838" r="10.0" fill="#fff"/><circle cx="279.5" cy="838" r="5.64"/>
<circle cx="284.5" cy="838" r="10.0" fill="#fff"/><circle cx="284.5" cy="838" r="5.64"/>
<circle cx="288.5" cy="838" r="10.0" fill="#fff"/><circle cx="288.5" cy="838" r="5.64"/>
<circle cx="292.5" cy="838" r="10.0" fill="#fff"/><circle cx="292.5" cy="838" r="5.64"/>
<circle cx="297.5" cy="838" r="10.0" fill="#fff"/><circle cx="297.5" cy="838" r="5.64"/>
<circle cx="301.5" cy="838" r="10.0" fill="#fff"/><circle cx="301.5" cy="838" r="5.64"/>
<circle cx="305.5" cy="838" r="10.0" fill="#fff"/><circle cx="305.5" cy="838" r="5.64"/>
<circle cx="309.5" cy="838" r="10.0" fill="#fff"/><circle cx="309.5" cy="838" r="5.64"/>
<circle cx="314.5" cy="838" r="10.0" fill="#fff"/><circle cx="314.5" cy="838" r="5.64"/>
<circle cx="318.5" cy="838" r="10.0" fill="#fff"/><circle cx="318.5" cy="838" r="5.64"/>
<circle cx="322.5" cy="838" r="10.0" fill="#fff"/><circle cx="322.5" cy="838" r="5.64"/>
<circle cx="327.5" cy="838" r="10.0" fill="#fff"/><circle cx="327.5" cy="838" r="5.64"/>
<circle cx="331.5" cy="838" r="10.0" fill="#fff"/><circle cx="331.5" cy="838" r="5.64"/>
<circle cx="335.5" cy="838" r="10.0" fill="#fff"/><circle cx="335.5" cy="838" r="5.64"/>
<circle cx="339.5" cy="838" r="10.0" fill="#fff"/><circle cx="339.5" cy="838" r="5.64"/>
<circle cx="344.5" cy="838" r="10.0" fill="#fff"/><circle cx="344.5" cy="838" r="5.64"/>
<circle cx="348.5" cy="838" r="10.0" fill="#fff"/><circle cx="348.5" cy="838" r="5.64"/>
<circle cx="352.5" cy="838" r="10.0" fill="#fff"/><circle cx="352.5" cy="838" r="5.64"/>
<circle cx="356.5" cy="838" r="10.0" fill="#fff"/><circle cx="356.5" cy="838" r="5.64"/>
<circle cx="361.5" cy="838" r="10.0" fill="#fff"/><circle cx="361.5" cy="838" r="5.64"/>
<circle cx="365.5" cy="838" r="10.0" fill="#fff"/><circle cx="365.5" cy="838" r="5.64"/>
<circle cx="369.5" cy="838" r="10.0" fill="#fff"/><circle cx="369.5" cy="838" r="5.64"/>
<circle cx="374.5" cy="838" r="10.0" fill="#fff"/><circle cx="374.5" cy="838" r="5.64"/>
<circle cx="378.5" cy="838" r="10.0" fill="#fff"/><circle cx="378.5" cy="838" r="5.64"/>
<circle cx="382.5" cy="838" r="10.0" fill="#fff"/><circle cx="382.5" cy="838" r="5.64"/>
<circle cx="386.5" cy="838" r="10.0" fill="#fff"/><circle cx="386.5" cy="838" r="5.64"/>
<circle cx="391.5" cy="838" r="10.0" fill="#fff"/><circle cx="391.5" cy="838" r="5.64"/>
<circle cx="395.5" cy="838" r="10.0" fill="#fff"/><circle cx="395.5" cy="838" r="5.64"/>
<circle cx="399.5" cy="838" r="10.0" fill="#fff"/><circle cx="399.5" cy="838" r="5.64"/>
<circle cx="404.5" cy="838" r="10.0" fill="#fff"/><circle cx="404.5" cy="838" r="5.64"/>
<circle cx="408.5" cy="838" r="10.0" fill="#fff"/><circle cx="408.5" cy="838" r="5.64"/>
<circle cx="412.5" cy="838" r="10.0" fill="#fff"/><circle cx="412.5" cy="838" r="5.64"/>
<circle cx="416.5" cy="838" r="10.0" fill="#fff"/><circle cx="416.5" cy="838" r="5.64"/>
<circle cx="421.5" cy="838" r="10.0" fill="#fff"/><circle cx="421.5" cy="838" r="5.64"/>
<circle cx="425.5" cy="838" r="10.0" fill="#fff"/><circle cx="425.5" cy="838" r="5.64"/>
<circle cx="429.5" cy="838" r="10.0" fill="#fff"/><circle cx="429.5" cy="838" r="5.64"/>
<circle cx="434.5" cy="838" r="10.0" fill="#fff"/><circle cx="434.5" cy="838" r="5.64"/>
<circle cx="438.5" cy="838" r="10.0" fill="#fff"/><circle cx="438.5" cy="838" r="5.64"/>
<circle cx="442.5" cy="838" r="10.0" fill="#fff"/><circle cx="442.5" cy="838" r="5.64"/>
<circle cx="446.5" cy="838" r="10.0" fill="#fff"/><circle cx="446.5" cy="838" r="5.64"/>
<circle cx="451.5" cy="838" r="10.0" fill="#fff"/><circle cx="451.5" cy="838" r="5.64"/>
<circle cx="455.5" cy="838" r="10.0" fill="#fff"/><circle cx="455.5" cy="838" r="5.64"/>
<circle cx="459.5" cy="838" r="10.0" fill="#fff"/><circle cx="459.5" cy="838" r="5.64"/>
<circle cx="464.5" cy="838" r="10.0" fill="#fff"/><circle cx="464.5" cy="838" r="5.64"/>
<circle cx="468.5" cy="838" r="10.0" fill="#fff"/><circle cx="468.5" cy="838" r="5.64"/>
<circle cx="472.5" cy="838" r="10.0" fill="#fff"/><circle cx="472.5" cy="838" r="5.64"/>
<circle cx="476.5" cy="838" r="10.0" fill="#fff"/><circle cx="476.5" cy="838" r="5.64"/>
<circle cx="481.5" cy="838" r="10.0" fill="#fff"/><circle cx="481.5" cy="838" r="5.64"/>
<circle cx="485.5" cy="838" r="10.0" fill="#fff"/><circle cx="485.5" cy="838" r="5.64"/>
<circle cx="489.5" cy="838" r="10.0" fill="#fff"/><circle cx="489.5" cy="838" r="5.64"/>
<circle cx="493.5" cy="838" r="10.0" fill="#fff"/><circle cx="493.5" cy="838" r="5.64"/>
<circle cx="498.5" cy="838" r="10.0" fill="#fff"/><circle cx="498.5" cy="838" r="5.64"/>
<circle cx="502.5" cy="838" r="10.0" fill="#fff"/><circle cx="502.5" cy="838" r="5.64"/>
<circle cx="506.5" cy="838" r="10.0" fill="#fff"/><circle cx="506.5" cy="838" r="5.64"/>
<circle cx="511.5" cy="838" r="10.0" fill="#fff"/><circle cx="511.5" cy="838" r="5.64"/>
<circle cx="515.5" cy="838" r="10.0" fill="#fff"/><circle cx="515.5" cy="838" r="5.64"/>
<circle cx="519.5" cy="838" r="10.0" fill="#fff"/><circle cx="519.5" cy="838" r="5.64"/>
<circle cx="523.5" cy="838" r="10.0" fill="#fff"/><circle cx="523.5" cy="838" r="5.64"/>
<circle cx="528.5" cy="838" r="10.0" fill="#fff"/><circle cx="528.5" cy="838" r="5.64"/>
<circle cx="532.5" cy="838" r="10.0" fill="#fff"/><circle cx="532.5" cy="838" r="5.64"/>
<circle cx="536.5" cy="838" r="10.0" fill="#fff"/><circle cx="536.5" cy="838" r="5.64"/>
<circle cx="541.5" cy="838" r="10.0" fill="#fff"/><circle cx="541.5" cy="838" r="5.64"/>
<circle cx="545.5" cy="838" r="10.0" fill="#fff"/><circle cx="545.5" cy="838" r="5.64"/>
<circle cx="549.5" cy="838" r="10.0" fill="#fff"/><circle cx="549.5" cy="838" r="5.64"/>
<circle cx="553.5" cy="838" r="10.0" fill="#fff"/><circle cx="553.5" cy="838" r="5.64"/>
<circle cx="558.5" cy="838" r="10.0" fill="#fff"/><circle cx="558.5" cy="838" r="5.64"/>
<circle cx="562.5" cy="838" r="10.0" fill="#fff"/><circle cx="562.5" cy="838" r="5.64"/>
<circle cx="566.5" cy="838" r="10.0" fill="#fff"/><circle cx="566.5" cy="838" r="5.64"/>
<circle cx="571.5" cy="838" r="10.0" fill="#fff"/><circle cx="571.5" cy="838" r="5.64"/>
<circle cx="575.5" cy="838" r="10.0" fill="#fff"/><circle cx="575.5" cy="838" r="5.64"/>
<circle cx="579.5" cy="838" r="10.0" fill="#fff"/><circle cx="579.5" cy="838" r="5.64"/>
<circle cx="583.5" cy="838" r="10.0" fill="#fff"/><circle cx="583.5" cy="838" r="5.64"/>
<circle cx="588.5" cy="838" r="10.0" fill="#fff"/><circle cx="588.5" cy="838" r="5.64"/>
<circle cx="592.5" cy="838" r="10.0" fill="#fff"/><circle cx="592.5" cy="838" r="5.64"/>
<circle cx="596.5" cy="838" r="10.0" fill="#fff"/><circle cx="596.5" cy="838" r="5.64"/>
<circle cx="600.5" cy="838" r="10.0" fill="#fff"/><circle cx="600.5" cy="838" r="5.64"/>
<circle cx="605.5" cy="838" r="10.0" fill="#fff"/><circle cx="605.5" cy="838" r="5.64"/>
<circle cx="609.5" cy="838" r="10.0" fill="#fff"/><circle cx="609.5" cy="838" r="5.64"/>
<circle cx="613.5" cy="838" r="10.0" fill="#fff"/><circle cx="613.5" cy="838" r="5.64"/>
<circle cx="618.5" cy="838" r="10.0" fill="#fff"/><circle cx="618.5" cy="838" r="5.64"/>
<circle cx="622.5" cy="838" r="10.0" fill="#fff"/><circle cx="622.5" cy="838" r="5.64"/>
<circle cx="626.5" cy="838" r="10.0" fill="#fff"/><circle cx="626.5" cy="838" r="5.64"/>
<circle cx="630.5" cy="838" r="10.0" fill="#fff"/><circle cx="630.5" cy="838" r="5.64"/>
<circle cx="635.5" cy="838" r="10.0" fill="#fff"/><circle cx="635.5" cy="838" r="5.64"/>
<circle cx="639.5" cy="838" r="10.0" fill="#fff"/><circle cx="639.5" cy="838" r="5.64"/>
<circle cx="643.5" cy="838" r="10.0" fill="#fff"/><circle cx="643.5" cy="838" r="5.64"/>
<circle cx="648.5" cy="838" r="10.0" fill="#fff"/><circle cx="648.5" cy="838" r="5.64"/>
<circle cx="652.5" cy="838" r="10.0" fill="#fff"/><circle cx="652.5" cy="838" r="5.64"/>
<circle cx="656.5" cy="838" r="10.0" fill="#fff"/><circle cx="656.5" cy="838" r="5.64"/>
<circle cx="660.5" cy="838" r="10.0" fill="#fff"/><circle cx="660.5" cy="838" r="5.64"/>
<circle cx="665.5" cy="838" r="10.0" fill="#fff"/><circle cx="665.5" cy="838" r="5.64"/>
<circle cx="669.5" cy="838" r="10.0" fill="#fff"/><circle cx="669.5" cy="838" r="5.64"/>
<circle cx="673.5" cy="838" r="10.0" fill="#fff"/><circle cx="673.5" cy="838" r="5.64"/>
<circle cx="678.5" cy="838" r="10.0" fill="#fff"/><circle cx="678.5" cy="838" r="5.64"/>
<circle cx="682.5" cy="838" r="10.0" fill="#fff"/><circle cx="682.5" cy="838" r="5.64"/>
<circle cx="686.5" cy="838" r="10.0" fill="#fff"/><circle cx="686.5" cy="838" r="5.64"/>
<circle cx="690.5" cy="838" r="10.0" fill="#fff"/><circle cx="690.5" cy="838" r="5.64"/>
<circle cx="695.5" cy="838" r="10.0" fill="#fff"/><circle cx="695.5" cy="838" r="5.64"/>
<circle cx="699.5" cy="838" r="10.0" fill="#fff"/><circle cx="699.5" cy="838" r="5.64"/>
<circle cx="703.5" cy="838" r="10.0" fill="#fff"/><circle cx="703.5" cy="838" r="5.64"/>
<circle cx="707.5" cy="838" r="10.0" fill="#fff"/><circle cx="707.5" cy="838" r="5.64"/>
<circle cx="712.5" cy="838" r="10.0" fill="#fff"/><circle cx="712.5" cy="838" r="5.64"/>
<circle cx="716.5" cy="838" r="10.0" fill="#fff"/><circle cx="716.5" cy="838" r="5.64"/>
<circle cx="720.5" cy="838" r="10.0" fill="#fff"/><circle cx="720.5" cy="838" r="5.64"/>
<circle cx="725.5" cy="838" r="10.0" fill="#fff"/><circle cx="725.5" cy="838" r="5.64"/>
<circle cx="729.5" cy="838" r="10.0" fill="#fff"/><circle cx="729.5" cy="838" r="5.64"/>
<circle cx="733.5" cy="838" r="10.0" fill="#fff"/><circle cx="733.5" cy="838" r="5.64"/>
<circle cx="737.5" cy="838" r="10.0" fill="#fff"/><circle cx="737.5" cy="838" r="5.64"/>
<circle cx="742.5" cy="838" r="10.0" fill="#fff"/><circle cx="742.5" cy="838" r="5.64"/>
<circle cx="746.5" cy="838" r="10.0" fill="#fff"/><circle cx="746.5" cy="838" r="5.64"/>
<circle cx="750.5" cy="838" r="10.0" fill="#fff"/><circle cx="750.5" cy="838" r="5.64"/>
<circle cx="754.5" cy="838" r="10.0" fill="#fff"/><circle cx="754.5" cy="838" r="5.64"/>
<circle cx="759.5" cy="838" r="10.0" fill="#fff"/><circle cx="759.5" cy="838" r="5.64"/>
<circle cx="763.5" cy="838" r="10.0" fill="#fff"/><circle cx="763.5" cy="838" r="5.64"/>
<circle cx="767.5" cy="838" r="10.0" fill="#fff"/><circle cx="767.5" cy="838" r="5.64"/>
<circle cx="772.5" cy="838" r="10.0" fill="#fff"/><circle cx="772.5" cy="838" r="5.64"/>
<circle cx="776.5" cy="838" r="10.0" fill="#fff"/><circle cx="776.5" cy="838" r="5.64"/>
<circle cx="780.5" cy="838" r="10.0" fill="#fff"/><circle cx="780.5" cy="838" r="5.64"/>
<circle cx="784.5" cy="838" r="10.0" fill="#fff"/><circle cx="784.5" cy="838" r="5.64"/>
<circle cx="789.5" cy="838" r="10.0" fill="#fff"/><circle cx="789.5" cy="838" r="5.64"/>
<circle cx="793.5" cy="838" r="10.0" fill="#fff"/><circle cx="793.5" cy="838" r="5.64"/>
<circle cx="797.5" cy="838" r="10.0" fill="#fff"/><circle cx="797.5" cy="838" r="5.64"/>
<circle cx="802.5" cy="838" r="10.0" fill="#fff"/><circle cx="802.5" cy="838" r="5.64"/>
<circle cx="806.5" cy="838" r="10.0" fill="#fff"/><circle cx="806.5" cy="838" r="5.64"/>
<circle cx="810.5" cy="838" r="10.0" fill="#fff"/><circle cx="810.5" cy="838" r="5.64"/>
<circle cx="814.5" cy="838" r="10.0" fill="#fff"/><circle cx="814.5" cy="838" r="5.64"/>
<circle cx="819.5" cy="838" r="10.0" fill="#fff"/><circle cx="819.5" cy="838" r="5.64"/>
<circle cx="823.5" cy="838" r="10.0" fill="#fff"/><circle cx="823.5" cy="838" r="5.64"/>
<circle cx="827.5" cy="838" r="10.0" fill="#fff"/><circle cx="827.5" cy="838" r="5.64"/>
<circle cx="832.5" cy="838" r="10.0" fill="#fff"/><circle cx="832.5" cy="838" r="5.64"/>
<circle cx="836.5" cy="838" r="10.0" fill="#fff"/><circle cx="836.5" cy="838" r="5.64"/>
<circle cx="840.5" cy="838" r="10.0" fill="#fff"/><circle cx="840.5" cy="838" r="5.64"/>
<circle cx="844.5" cy="838" r="10.0" fill="#fff"/><circle cx="844.5" cy="838" r="5.64"/>
<circle cx="849.5" cy="838" r="10.0" fill="#fff"/><circle cx="849.5" cy="838" r="5.64"/>
<circle cx="853.5" cy="838" r="10.0" fill="#fff"/><circle cx="853.5" cy="838" r="5.64"/>
<circle cx="857.5" cy="838" r="10.0" fill="#fff"/><circle cx="857.5" cy="838" r="5.64"/>
<circle cx="862.5" cy="838" r="10.0" fill="#fff"/><circle cx="862.5" cy="838" r="5.64"/>
<circle cx="866.5" cy="838" r="10.0" fill="#fff"/><circle cx="866.5" cy="838" r="5.64"/>
<circle cx="870.5" cy="838" r="10.0" fill="#fff"/><circle cx="870.5" cy="838" r="5.64"/>
<circle cx="874.5" cy="838" r="10.0" fill="#fff"/><circle cx="874.5" cy="838" r="5.64"/>
<circle cx="879.5" cy="838" r="10.0" fill="#fff"/><circle cx="879.5" cy="838" r="5.64"/>
<circle cx="883.5" cy="838" r="10.0" fill="#fff"/><circle cx="883.5" cy="838" r="5.64"/>
<circle cx="887.5" cy="838" r="10.0" fill="#fff"/><circle cx="887.5" cy="838" r="5.64"/>
<circle cx="891.5" cy="838" r="10.0" fill="#fff"/><circle cx="891.5" cy="838" r="5.64"/>
<circle cx="896.5" cy="838" r="10.0" fill="#fff"/><circle cx="896.5" cy="838" r="5.64"/>
<circle cx="900.5" cy="838" r="10.0" fill="#fff"/><circle cx="900.5" cy="838" r="5.64"/>
<circle cx="904.5" cy="838" r="10.0" fill="#fff"/><circle cx="904.5" cy="838" r="5.64"/>
<circle cx="909.5" cy="838" r="10.0" fill="#fff"/><circle cx="909.5" cy="838" r="5.64"/>
<circle cx="913.5" cy="838" r="10.0" fill="#fff"/><circle cx="913.5" cy="838" r="5.64"/>
<circle cx="917.5" cy="838" r="10.0" fill="#fff"/><circle cx="917.5" cy="838" r="5.64"/>
<circle cx="921.5" cy="838" r="10.0" fill="#fff"/><circle cx="921.5" cy="838" r="5.64"/>
<circle cx="926.5" cy="838" r="10.0" fill="#fff"/><circle cx="926.5" cy="838" r="5.64"/>
<circle cx="930.5" cy="838" r="10.0" fill="#fff"/><circle cx="930.5" cy="838" r="5.64"/>
<circle cx="934.5" cy="838" r="10.0" fill="#fff"/><circle cx="934.5" cy="838" r="5.64"/>
<circle cx="939.5" cy="838" r="10.0" fill="#fff"/><circle cx="939.5" cy="838" r="5.64"/>
<circle cx="943.5" cy="838" r="10.0" fill="#fff"/><circle cx="943.5" cy="838" r="5.64"/>
<circle cx="947.5" cy="838" r="10.0" fill="#fff"/><circle cx="947.5" cy="838" r="5.64"/>
<circle cx="951.5" cy="838" r="10.0" fill="#fff"/><circle cx="951.5" cy="838" r="5.64"/>
<circle cx="956.5" cy="838" r="10.0" fill="#fff"/><circle cx="956.5" cy="838" r="5.64"/>
</g>
<path d="M95.5 838.5 L100.5 838.5 L104.5 838.5 L108.5 838.5 L113.5 838.5 L117.5 838.5 L121.5 838.5 L125.5 838.5 L130.5 838.5 L134.5 838.5 L138.5 838.5 L143.5 838.5 L147.5 838.5 L151.5 838.5 L155.5 838.5 L160.5 838.5 L164.5 838.5 L168.5 838.5 L172.5 838.5 L177.5 838.5 L181.5 838.5 L185.5 838.5 L190.5 838.5 L194.5 838.5 L198.5 838.5 L202.5 838.5 L207.5 838.5 L211.5 838.5 L215.5 838.5 L220.5 838.5 L224.5 838.5 L228.5 838.5 L232.5 838.5 L237.5 838.5 L241.5 838.5 L245.5 838.5 L250.5 838.5 L254.5 838.5 L258.5 838.5 L262.5 838.5 L267.5 838.5 L271.5 838.5 L275.5 838.5 L279.5 838.5 L284.5 838.5 L288.5 838.5 L292.5 838.5 L297.5 838.5 L301.5 838.5 L305.5 838.5 L309.5 838.5 L314.5 838.5 L318.5 838.5 L322.5 838.5 L327.5 838.5 L331.5 838.5 L335.5 838.5 L339.5 838.5 L344.5 838.5 L348.5 838.5 L352.5 838.5 L356.5 838.5 L361.5 838.5 L365.5 838.5 L369.5 838.5 L374.5 838.5 L378.5 838.5 L382.5 838.5 L386.5 838.5 L391.5 838.5 L395.5 838.5 L399.5 838.5 L404.5 838.5 L408.5 838.5 L412.5 838.5 L416.5 838.5 L421.5 838.5 L425.5 838.5 L429.5 838.5 L434.5 838.5 L438.5 838.5 L442.5 838.5 L446.5 838.5 L451.5 838.5 L455.5 838.5 L459.5 838.5 L464.5 838.5 L468.5 838.5 L472.5 838.5 L476.5 838.5 L481.5 838.5 L485.5 838.5 L489.5 838.5 L493.5 838.5 L498.5 838.5 L502.5 838.5 L506.5 838.5 L511.5 838.5 L515.5 838.5 L519.5 838.5 L523.5 838.5 L528.5 838.5 L532.5 838.5 L536.5 838.5 L541.5 838.5 L545.5 838.5 L549.5 838.5 L553.5 838.5 L558.5 838.5 L562.5 838.5 L566.5 838.5 L571.5 838.5 L575.5 838.5 L579.5 838.5 L583.5 838.5 L588.5 838.5 L592.5 838.5 L596.5 838.5 L600.5 838.5 L605.5 838.5 L609.5 838.5 L613.5 838.5 L618.5 838.5 L622.5 838.5 L626.5 838.5 L630.5 838.5 L635.5 838.5 L639.5 838.5 L643.5 838.5 L648.5 838.5 L652.5 838.5 L656.5 838.5 L660.5 838.5 L665.5 838.5 L669.5 838.5 L673.5 838.5 L678.5 838.5 L682.5 838.5 L686.5 838.5 L690.5 838.5 L695.5 838.5 L699.5 838.5 L703.5 838.5 L707.5 838.5 L712.5 838.5 L716.5 838.5 L720.5 838.5 L725.5 838.5 L729.5 838.5 L733.5 838.5 L737.5 838.5 L742.5 838.5 L746.5 838.5 L750.5 838.5 L754.5 838.5 L759.5 838.5 L763.5 838.5 L767.5 838.5 L772.5 838.5 L776.5 838.5 L780.5 838.5 L784.5 838.5 L789.5 838.5 L793.5 838.5 L797.5 838.5 L802.5 838.5 L806.5 838.5 L810.5 838.5 L814.5 838.5 L819.5 838.5 L823.5 838.5 L827.5 838.5 L832.5 838.5 L836.5 838.5 L840.5 838.5 L844.5 838.5 L849.5 838.5 L853.5 838.5 L857.5 838.5 L862.5 838.5 L866.5 838.5 L870.5 838.5 L874.5 838.5 L879.5 838.5 L883.5 838.5 L887.5 838.5 L891.5 838.5 L896.5 838.5 L900.5 838.5 L904.5 838.5 L909.5 838.5 L913.5 838.5 L917.5 838.5 L921.5 838.5 L926.5 838.5 L930.5 838.5 L934.5 838.5 L939.5 838.5 L943.5 838.5 L947.5 838.5 L951.5 838.5 L956.5 838.5" fill="none" stroke="#2ca02c" stroke-width="2" stroke-linejoin="round"/>
<g fill="#2ca02c">
<circle cx="95.5" cy="838.5" r="10.0" fill="#fff"/><circle cx="95.5" cy="838.5" r="5.64"/>
<circle cx="100.5" cy="838.5" r="10.0" fill="#fff"/><circle cx="100.5" cy="838.5" r="5.64"/>
<circle cx="104.5" cy="838.5" r="10.0" fill="#fff"/><circle cx="104.5" cy="838.5" r="5.64"/>
<circle cx="108.5" cy="838.5" r="10.0" fill="#fff"/><circle cx="108.5" cy="838.5" r="5.64"/>
<circle cx="113.5" cy="838.5" r="10.0" fill="#fff"/><circle cx="113.5" cy="838.5" r="5.64"/>
<circle cx="117.5" cy="838.5" r="10.0" fill="#fff"/><circle cx="117.5" cy="838.5" r="5.64"/>
<circle cx="121.5" cy="838.5" r="10.0" fill="#fff"/><circle cx="121.5" cy="838.5" r="5.64"/>
<circle cx="125.5" cy="838.5" r="10.0" fill="#fff"/><circle cx="125.5" cy="838.5" r="5.64"/>
<circle cx="130.5" cy="838.5" r="10.0" fill="#fff"/><circle cx="130.5" cy="838.5" r="5.64"/>
<circle cx="134.5" cy="838.5" r="10.0" fill="#fff"/><circle cx="134.5" cy="838.5" r="5.64"/>
<circle cx="138.5" cy="838.5" r="10.0" fill="#fff"/><circle cx="138.5" cy="838.5" r="5.64"/>
<circle cx="143.5" cy="838.5" r="10.0" fill="#fff"/><circle cx="143.5" cy="838.5" r="5.64"/>
<circle cx="147.5" cy="838.5" r="10.0" fill="#fff"/><circle cx="147.5" cy="838.5" r="5.64"/>
<circle cx="151.5" cy="838.5" r="10.0" fill="#fff"/><circle cx="151.5" cy="838.5" r="5.64"/>
<circle cx="155.5" cy="838.5" r="10.0" fill="#fff"/><circle cx="155.5" cy="838.5" r="5.64"/>
<circle cx="160.5" cy="838.5" r="10.0" fill="#fff"/><circle cx="160.5" cy="838.5" r="5.64"/>
<circle cx="164.5" cy="838.5" r="10.0" fill="#fff"/><circle cx="164.5" cy="838.5" r="5.64"/>
<circle cx="168.5" cy="838.5" r="10.0" fill="#fff"/><circle cx="168.5" cy="838.5" r="5.64"/>
<circle cx="172.5" cy="838.5" r="10.0" fill="#fff"/><circle cx="172.5" cy="838.5" r="5.64"/>
<circle cx="177.5" cy="838.5" r="10.0" fill="#fff"/><circle cx="177.5" cy="838.5" r="5.64"/>
<circle cx="181.5" cy="838.5" r="10.0" fill="#fff"/><circle cx="181.5" cy="838.5" r="5.64"/>
<circle cx="185.5" cy="838.5" r="10.0" fill="#fff"/><circle cx="185.5" cy="838.5" r="5.64"/>
<circle cx="190.5" cy="838.5" r="10.0" fill="#fff"/><circle cx="190.5" cy="838.5" r="5.64"/>
<circle cx="194.5" cy="838.5" r="10.0" fill="#fff"/><circle cx="194.5" cy="838.5" r="5.64"/>
<circle cx="198.5" cy="838.5" r="10.0" fill="#fff"/><circle cx="198.5" cy="838.5" r="5.64"/>
<circle cx="202.5" cy="838.5" r="10.0" fill="#fff"/><circle cx="202.5" cy="838.5" r="5.64"/>
<circle cx="207.5" cy="838.5" r="10.0" fill="#fff"/><circle cx="207.5" cy="838.5" r="5.64"/>
<circle cx="211.5" cy="838.5" r="10.0" fill="#fff"/><circle cx="211.5" cy="838.5" r="5.64"/>
<circle cx="215.5" cy="838.5" r="10.0" fill="#fff"/><circle cx="215.5" cy="838.5" r="5.64"/>
<circle cx="220.5" cy="838.5" r="10.0" fill="#fff"/><circle cx="220.5" cy="838.5" r="5.64"/>
<circle cx="224.5" cy="838.5" r="10.0" fill="#fff"/><circle cx="224.5" cy="838.5" r="5.64"/>
<circle cx="228.5" cy="838.5" r="10.0" fill="#fff"/><circle cx="228.5" cy="838.5" r="5.64"/>
<circle cx="232.5" cy="838.5" r="10.0" fill="#fff"/><circle cx="232.5" cy="838.5" r="5.64"/>
<circle cx="237.5" cy="838.5" r="10.0" fill="#fff"/><circle cx="237.5" cy="838.5" r="5.64"/>
<circle cx="241.5" cy="838.5" r="10.0" fill="#fff"/><circle cx="241.5" cy="838.5" r="5.64"/>
<circle cx="245.5" cy="838.5" r="10.0" fill="#fff"/><circle cx="245.5" cy="838.5" r="5.64"/>
<circle cx="250.5" cy="838.5" r="10.0" fill="#fff"/><circle cx="250.5" cy="838.5" r="5.64"/>
<circle cx="254.5" cy="838.5" r="10.0" fill="#fff"/><circle cx="254.5" cy="838.5" r="5.64"/>
<circle cx="258.5" cy="838.5" r="10.0" fill="#fff"/><circle cx="258.5" cy="838.5" r="5.64"/>
<circle cx="262.5" cy="838.5" r="10.0" fill="#fff"/><circle cx="262.5" cy="838.5" r="5.64"/>
<circle cx="267.5" cy="838.5" r="10.0" fill="#fff"/><circle cx="267.5" cy="838.5" r="5.64"/>
<circle cx="271.5" cy="838.5" r="10.0" fill="#fff"/><circle cx="271.5" cy="838.5" r="5.64"/>
<circle cx="275.5" cy="838.5" r="10.0" fill="#fff"/><circle cx="275.5" cy="838.5" r="5.64"/>
<circle cx="279.5" cy="838.5" r="10.0" fill="#fff"/><circle cx="279.5" cy="838.5" r="5.64"/>
<circle cx="284.5" cy="838.5" r="10.0" fill="#fff"/><circle cx="284.5" cy="838.5" r="5.64"/>
<circle cx="288.5" cy="838.5" r="10.0" fill="#fff"/><circle cx="288.5" cy="838.5" r="5.64"/>
<circle cx="292.5" cy="838.5" r="10.0" fill="#fff"/><circle cx="292.5" cy="838.5" r="5.64"/>
<circle cx="297.5" cy="838.5" r="10.0" fill="#fff"/><circle cx="297.5" cy="838.5" r="5.64"/>
<circle cx="301.5" cy="838.5" r="10.0" fill="#fff"/><circle cx="301.5" cy="838.5" r="5.64"/>
<circle cx="305.5" cy="838.5" r="10.0" fill="#fff"/><circle cx="305.5" cy="838.5" r="5.64"/>
<circle cx="309.5" cy="838.5" r="10.0" fill="#fff"/><circle cx="309.5" cy="838.5" r="5.64"/>
<circle cx="314.5" cy="838.5" r="10.0" fill="#fff"/><circle cx="314.5" cy="838.5" r="5.64"/>
<circle cx="318.5" cy="838.5" r="10.0" fill="#fff"/><circle cx="318.5" cy="838.5" r="5.64"/>
<circle cx="322.5" cy="838.5" r="10.0" fill="#fff"/><circle cx="322.5" cy="838.5" r="5.64"/>
<circle cx="327.5" cy="838.5" r="10.0" fill="#fff"/><circle cx="327.5" cy="838.5" r="5.64"/>
<circle cx="331.5" cy="838.5" r="10.0" fill="#fff"/><circle cx="331.5" cy="838.5" r="5.64"/>
<circle cx="335.5" cy="838.5" r="10.0" fill="#fff"/><circle cx="335.5" cy="838.5" r="5.64"/>
<circle cx="339.5" cy="838.5" r="10.0" fill="#fff"/><circle cx="339.5" cy="838.5" r="5.64"/>
<circle cx="344.5" cy="838.5" r="10.0" fill="#fff"/><circle cx="344.5" cy="838.5" r="5.64"/>
<circle cx="348.5" cy="838.5" r="10.0" fill="#fff"/><circle cx="348.5" cy="838.5" r="5.64"/>
<circle cx="352.5" cy="838.5" r="10.0" fill="#fff"/><circle cx="352.5" cy="838.5" r="5.64"/>
<circle cx="356.5" cy="838.5" r="10.0" fill="#fff"/><circle cx="356.5" cy="838.5" r="5.64"/>
<circle cx="361.5" cy="838.5" r="10.0" fill="#fff"/><circle cx="361.5" cy="838.5" r="5.64"/>
<circle cx="365.5" cy="838.5" r="10.0" fill="#fff"/><circle cx="365.5" cy="838.5" r="5.64"/>
<circle cx="369.5" cy="838.5" r="10.0" fill="#fff"/><circle cx="369.5" cy="838.5" r="5.64"/>
<circle cx="374.5" cy="838.5" r="10.0" fill="#fff"/><circle cx="374.5" cy="838.5" r="5.64"/>
<circle cx="378.5" cy="838.5" r="10.0" fill="#fff"/><circle cx="378.5" cy="838.5" r="5.64"/>
<circle cx="382.5" cy="838.5" r="10.0" fill="#fff"/><circle cx="382.5" cy="838.5" r="5.64"/>
<circle cx="386.5" cy="838.5" r="10.0" fill="#fff"/><circle cx="386.5" cy="838.5" r="5.64"/>
<circle cx="391.5" cy="838.5" r="10.0" fill="#fff"/><circle cx="391.5" cy="838.5" r="5.64"/>
<circle cx="395.5" cy="838.5" r="10.0" fill="#fff"/><circle cx="395.5" cy="838.5" r="5.64"/>
<circle cx="399.5" cy="838.5" r="10.0" fill="#fff"/><circle cx="399.5" cy="838.5" r="5.64"/>
<circle cx="404.5" cy="838.5" r="10.0" fill="#fff"/><circle cx="404.5" cy="838.5" r="5.64"/>
<circle cx="408.5" cy="838.5" r="10.0" fill="#fff"/><circle cx="408.5" cy="838.5" r="5.64"/>
<circle cx="412.5" cy="838.5" r="10.0" fill="#fff"/><circle cx="412.5" cy="838.5" r="5.64"/>
<circle cx="416.5" cy="838.5" r="10.0" fill="#fff"/><circle cx="416.5" cy="838.5" r="5.64"/>
<circle cx="421.5" cy="838.5" r="10.0" fill="#fff"/><circle cx="421.5" cy="838.5" r="5.64"/>
<circle cx="425.5" cy="838.5" r="10.0" fill="#fff"/><circle cx="425.5" cy="838.5" r="5.64"/>
<circle cx="429.5" cy="838.5" r="10.0" fill="#fff"/><circle cx="429.5" cy="838.5" r="5.64"/>
<circle cx="434.5" cy="838.5" r="10.0" fill="#fff"/><circle cx="434.5" cy="838.5" r="5.64"/>
<circle cx="438.5" cy="838.5" r="10.0" fill="#fff"/><circle cx="438.5" cy="838.5" r="5.64"/>
<circle cx="442.5" cy="838.5" r="10.0" fill="#fff"/><circle cx="442.5" cy="838.5" r="5.64"/>
<circle cx="446.5" cy="838.5" r="10.0" fill="#fff"/><circle cx="446.5" cy="838.5" r="5.64"/>
<circle cx="451.5" cy="838.5" r="10.0" fill="#fff"/><circle cx="451.5" cy="838.5" r="5.64"/>
<circle cx="455.5" cy="838.5" r="10.0" fill="#fff"/><circle cx="455.5" cy="838.5" r="5.64"/>
<circle cx="459.5" cy="838.5" r="10.0" fill="#fff"/><circle cx="459.5" cy="838.5" r="5.64"/>
<circle cx="464.5" cy="838.5" r="10.0" fill="#fff"/><circle cx="464.5" cy="838.5" r="5.64"/>
<circle cx="468.5" cy="838.5" r="10.0" fill="#fff"/><circle cx="468.5" cy="838.5" r="5.64"/>
<circle cx="472.5" cy="838.5" r="10.0" fill="#fff"/><circle cx="472.5" cy="838.5" r="5.64"/>
<circle cx="476.5" cy="838.5" r="10.0" fill="#fff"/><circle cx="476.5" cy="838.5" r="5.64"/>
<circle cx="481.5" cy="838.5" r="10.0" fill="#fff"/><circle cx="481.5" cy="838.5" r="5.64"/>
<circle cx="485.5" cy="838.5" r="10.0" fill="#fff"/><circle cx="485.5" cy="838.5" r="5.64"/>
<circle cx="489.5" cy="838.5" r="10.0" fill="#fff"/><circle cx="489.5" cy="838.5" r="5.64"/>
<circle cx="493.5" cy="838.5" r="10.0" fill="#fff"/><circle cx="493.5" cy="838.5" r="5.64"/>
<circle cx="498.5" cy="838.5" r="10.0" fill="#fff"/><circle cx="498.5" cy="838.5" r="5.64"/>
<circle cx="502.5" cy="838.5" r="10.0" fill="#fff"/><circle cx="502.5" cy="838.5" r="5.64"/>
<circle cx="506.5" cy="838.5" r="10.0" fill="#fff"/><circle cx="506.5" cy="838.5" r="5.64"/>
<circle cx="511.5" cy="838.5" r="10.0" fill="#fff"/><circle cx="511.5" cy="838.5" r="5.64"/>
<circle cx="515.5" cy="838.5" r="10.0" fill="#fff"/><circle cx="515.5" cy="838.5" r="5.64"/>
<circle cx="519.5" cy="838.5" r="10.0" fill="#fff"/><circle cx="519.5" cy="838.5" r="5.64"/>
<circle cx="523.5" cy="838.5" r="10.0" fill="#fff"/><circle cx="523.5" cy="838.5" r="5.64"/>
<circle cx="528.5" cy="838.5" r="10.0" fill="#fff"/><circle cx="528.5" cy="838.5" r="5.64"/>
<circle cx="532.5" cy="838.5" r="10.0" fill="#fff"/><circle cx="532.5" cy="838.5" r="5.64"/>
<circle cx="536.5" cy="838.5" r="10.0" fill="#fff"/><circle cx="536.5" cy="838.5" r="5.64"/>
<circle cx="541.5" cy="838.5" r="10.0" fill="#fff"/><circle cx="541.5" cy="838.5" r="5.64"/>
<circle cx="545.5" cy="838.5" r="10.0" fill="#fff"/><circle cx="545.5" cy="838.5" r="5.64"/>
<circle cx="549.5" cy="838.5" r="10.0" fill="#fff"/><circle cx="549.5" cy="838.5" r="5.64"/>
<circle cx="553.5" cy="838.5" r="10.0" fill="#fff"/><circle cx="553.5" cy="838.5" r="5.64"/>
<circle cx="558.5" cy="838.5" r="10.0" fill="#fff"/><circle cx="558.5" cy="838.5" r="5.64"/>
<circle cx="562.5" cy="838.5" r="10.0" fill="#fff"/><circle cx="562.5" cy="838.5" r="5.64"/>
<circle cx="566.5" cy="838.5" r="10.0" fill="#fff"/><circle cx="566.5" cy="838.5" r="5.64"/>
<circle cx="571.5" cy="838.5" r="10.0" fill="#fff"/><circle cx="571.5" cy="838.5" r="5.64"/>
<circle cx="575.5" cy="838.5" r="10.0" fill="#fff"/><circle cx="575.5" cy="838.5" r="5.64"/>
<circle cx="579.5" cy="838.5" r="10.0" fill="#fff"/><circle cx="579.5" cy="838.5" r="5.64"/>
<circle cx="583.5" cy="838.5" r="10.0" fill="#fff"/><circle cx="583.5" cy="838.5" r="5.64"/>
<circle cx="588.5" cy="838.5" r="10.0" fill="#fff"/><circle cx="588.5" cy="838.5" r="5.64"/>
<circle cx="592.5" cy="838.5" r="10.0" fill="#fff"/><circle cx="592.5" cy="838.5" r="5.64"/>
<circle cx="596.5" cy="838.5" r="10.0" fill="#fff"/><circle cx="596.5" cy="838.5" r="5.64"/>
<circle cx="600.5" cy="838.5" r="10.0" fill="#fff"/><circle cx="600.5" cy="838.5" r="5.64"/>
<circle cx="605.5" cy="838.5" r="10.0" fill="#fff"/><circle cx="605.5" cy="838.5" r="5.64"/>
<circle cx="609.5" cy="838.5" r="10.0" fill="#fff"/><circle cx="609.5" cy="838.5" r="5.64"/>
<circle cx="613.5" cy="838.5" r="10.0" fill="#fff"/><circle cx="613.5" cy="838.5" r="5.64"/>
<circle cx="618.5" cy="838.5" r="10.0" fill="#fff"/><circle cx="618.5" cy="838.5" r="5.64"/>
<circle cx="622.5" cy="838.5" r="10.0" fill="#fff"/><circle cx="622.5" cy="838.5" r="5.64"/>
<circle cx="626.5" cy="838.5" r="10.0" fill="#fff"/><circle cx="626.5" cy="838.5" r="5.64"/>
<circle cx="630.5" cy="838.5" r="10.0" fill="#fff"/><circle cx="630.5" cy="838.5" r="5.64"/>
<circle cx="635.5" cy="838.5" r="10.0" fill="#fff"/><circle cx="635.5" cy="838.5" r="5.64"/>
<circle cx="639.5" cy="838.5" r="10.0" fill="#fff"/><circle cx="639.5" cy="838.5" r="5.64"/>
<circle cx="643.5" cy="838.5" r="10.0" fill="#fff"/><circle cx="643.5" cy="838.5" r="5.64"/>
<circle cx="648.5" cy="838.5" r="10.0" fill="#fff"/><circle cx="648.5" cy="838.5" r="5.64"/>
<circle cx="652.5" cy="838.5" r="10.0" fill="#fff"/><circle cx="652.5" cy="838.5" r="5.64"/>
<circle cx="656.5" cy="838.5" r="10.0" fill="#fff"/><circle cx="656.5" cy="838.5" r="5.64"/>
<circle cx="660.5" cy="838.5" r="10.0" fill="#fff"/><circle cx="660.5" cy="838.5" r="5.64"/>
<circle cx="665.5" cy="838.5" r="10.0" fill="#fff"/><circle cx="665.5" cy="838.5" r="5.64"/>
<circle cx="669.5" cy="838.5" r="10.0" fill="#fff"/><circle cx="669.5" cy="838.5" r="5.64"/>
<circle cx="673.5" cy="838.5" r="10.0" fill="#fff"/><circle cx="673.5" cy="838.5" r="5.64"/>
<circle cx="678.5" cy="838.5" r="10.0" fill="#fff"/><circle cx="678.5" cy="838.5" r="5.64"/>
<circle cx="682.5" cy="838.5" r="10.0" fill="#fff"/><circle cx="682.5" cy="838.5" r="5.64"/>
<circle cx="686.5" cy="838.5" r="10.0" fill="#fff"/><circle cx="686.5" cy="838.5" r="5.64"/>
<circle cx="690.5" cy="838.5" r="10.0" fill="#fff"/><circle cx="690.5" cy="838.5" r="5.64"/>
<circle cx="695.5" cy="838.5" r="10.0" fill="#fff"/><circle cx="695.5" cy="838.5" r="5.64"/>
<circle cx="699.5" cy="838.5" r="10.0" fill="#fff"/><circle cx="699.5" cy="838.5" r="5.64"/>
<circle cx="703.5" cy="838.5" r="10.0" fill="#fff"/><circle cx="703.5" cy="838.5" r="5.64"/>
<circle cx="707.5" cy="838.5" r="10.0" fill="#fff"/><circle cx="707.5" cy="838.5" r="5.64"/>
<circle cx="712.5" cy="838.5" r="10.0" fill="#fff"/><circle cx="712.5" cy="838.5" r="5.64"/>
<circle cx="716.5" cy="838.5" r="10.0" fill="#fff"/><circle cx="716.5" cy="838.5" r="5.64"/>
<circle cx="720.5" cy="838.5" r="10.0" fill="#fff"/><circle cx="720.5" cy="838.5" r="5.64"/>
<circle cx="725.5" cy="838.5" r="10.0" fill="#fff"/><circle cx="725.5" cy="838.5" r="5.64"/>
<circle cx="729.5" cy="838.5" r="10.0" fill="#fff"/><circle cx="729.5" cy="838.5" r="5.64"/>
<circle cx="733.5" cy="838.5" r="10.0" fill="#fff"/><circle cx="733.5" cy="838.5" r="5.64"/>
<circle cx="737.5" cy="838.5" r="10.0" fill="#fff"/><circle cx="737.5" cy="838.5" r="5.64"/>
<circle cx="742.5" cy="838.5" r="10.0" fill="#fff"/><circle cx="742.5" cy="838.5" r="5.64"/>
<circle cx="746.5" cy="838.5" r="10.0" fill="#fff"/><circle cx="746.5" cy="838.5" r="5.64"/>
<circle cx="750.5" cy="838.5" r="10.0" fill="#fff"/><circle cx="750.5" cy="838.5" r="5.64"/>
<circle cx="754.5" cy="838.5" r="10.0" fill="#fff"/><circle cx="754.5" cy="838.5" r="5.64"/>
<circle cx="759.5" cy="838.5" r="10.0" fill="#fff"/><circle cx="759.5" cy="838.5" r="5.64"/>
<circle cx="763.5" cy="838.5" r="10.0" fill="#fff"/><circle cx="763.5" cy="838.5" r="5.64"/>
<circle cx="767.5" cy="838.5" r="10.0" fill="#fff"/><circle cx="767.5" cy="838.5" r="5.64"/>
<circle cx="772.5" cy="838.5" r="10.0" fill="#fff"/><circle cx="772.5" cy="838.5" r="5.64"/>
<circle cx="776.5" cy="838.5" r="10.0" fill="#fff"/><circle cx="776.5" cy="838.5" r="5.64"/>
<circle cx="780.5" cy="838.5" r="10.0" fill="#fff"/><circle cx="780.5" cy="838.5" r="5.64"/>
<circle cx="784.5" cy="838.5" r="10.0" fill="#fff"/><circle cx="784.5" cy="838.5" r="5.64"/>
<circle cx="789.5" cy="838.5" r="10.0" fill="#fff"/><circle cx="789.5" cy="838.5" r="5.64"/>
<circle cx="793.5" cy="838.5" r="10.0" fill="#fff"/><circle cx="793.5" cy="838.5" r="5.64"/>
<circle cx="797.5" cy="838.5" r="10.0" fill="#fff"/><circle cx="797.5" cy="838.5" r="5.64"/>
<circle cx="802.5" cy="838.5" r="10.0" fill="#fff"/><circle cx="802.5" cy="838.5" r="5.64"/>
<circle cx="806.5" cy="838.5" r="10.0" fill="#fff"/><circle cx="806.5" cy="838.5" r="5.64"/>
<circle cx="810.5" cy="838.5" r="10.0" fill="#fff"/><circle cx="810.5" cy="838.5" r="5.64"/>
<circle cx="814.5" cy="838.5" r="10.0" fill="#fff"/><circle cx="814.5" cy="838.5" r="5.64"/>
<circle cx="819.5" cy="838.5" r="10.0" fill="#fff"/><circle cx="819.5" cy="838.5" r="5.64"/>
<circle cx="823.5" cy="838.5" r="10.0" fill="#fff"/><circle cx="823.5" cy="838.5" r="5.64"/>
<circle cx="827.5" cy="838.5" r="10.0" fill="#fff"/><circle cx="827.5" cy="838.5" r="5.64"/>
<circle cx="832.5" cy="838.5" r="10.0" fill="#fff"/><circle cx="832.5" cy="838.5" r="5.64"/>
<circle cx="836.5" cy="838.5" r="10.0" fill="#fff"/><circle cx="836.5" cy="838.5" r="5.64"/>
<circle cx="840.5" cy="838.5" r="10.0" fill="#fff"/><circle cx="840.5" cy="838.5" r="5.64"/>
<circle cx="844.5" cy="838.5" r="10.0" fill="#fff"/><circle cx="844.5" cy="838.5" r="5.64"/>
<circle cx="849.5" cy="838.5" r="10.0" fill="#fff"/><circle cx="849.5" cy="838.5" r="5.64"/>
<circle cx="853.5" cy="838.5" r="10.0" fill="#fff"/><circle cx="853.5" cy="838.5" r="5.64"/>
<circle cx="857.5" cy="838.5" r="10.0" fill="#fff"/><circle cx="857.5" cy="838.5" r="5.64"/>
<circle cx="862.5" cy="838.5" r="10.0" fill="#fff"/><circle cx="862.5" cy="838.5" r="5.64"/>
<circle cx="866.5" cy="838.5" r="10.0" fill="#fff"/><circle cx="866.5" cy="838.5" r="5.64"/>
<circle cx="870.5" cy="838.5" r="10.0" fill="#fff"/><circle cx="870.5" cy="838.5" r="5.64"/>
<circle cx="874.5" cy="838.5" r="10.0" fill="#fff"/><circle cx="874.5" cy="838.5" r="5.64"/>
<circle cx="879.5" cy="838.5" r="10.0" fill="#fff"/><circle cx="879.5" cy="838.5" r="5.64"/>
<circle cx="883.5" cy="838.5" r="10.0" fill="#fff"/><circle cx="883.5" cy="838.5" r="5.64"/>
<circle cx="887.5" cy="838.5" r="10.0" fill="#fff"/><circle cx="887.5" cy="838.5" r="5.64"/>
<circle cx="891.5" cy="838.5" r="10.0" fill="#fff"/><circle cx="891.5" cy="838.5" r="5.64"/>
<circle cx="896.5" cy="838.5" r="10.0" fill="#fff"/><circle cx="896.5" cy="838.5" r="5.64"/>
<circle cx="900.5" cy="838.5" r="10.0" fill="#fff"/><circle cx="900.5" cy="838.5" r="5.64"/>
<circle cx="904.5" cy="838.5" r="10.0" fill="#fff"/><circle cx="904.5" cy="838.5" r="5.64"/>
<circle cx="909.5" cy="838.5" r="10.0" fill="#fff"/><circle cx="909.5" cy="838.5" r="5.64"/>
<circle cx="913.5" cy="838.5" r="10.0" fill="#fff"/><circle cx="913.5" cy="838.5" r="5.64"/>
<circle cx="917.5" cy="838.5" r="10.0" fill="#fff"/><circle cx="917.5" cy="838.5" r="5.64"/>
<circle cx="921.5" cy="838.5" r="10.0" fill="#fff"/><circle cx="921.5" cy="838.5" r="5.64"/>
<circle cx="926.5" cy="838.5" r="10.0" fill="#fff"/><circle cx="926.5" cy="838.5" r="5.64"/>
<circle cx="930.5" cy="838.5" r="10.0" fill="#fff"/><circle cx="930.5" cy="838.5" r="5.64"/>
<circle cx="934.5" cy="838.5" r="10.0" fill="#fff"/><circle cx="934.5" cy="838.5" r="5.64"/>
<circle cx="939.5" cy="838.5" r="10.0" fill="#fff"/><circle cx="939.5" cy="838.5" r="5.64"/>
<circle cx="943.5" cy="838.5" r="10.0" fill="#fff"/><circle cx="943.5" cy="838.5" r="5.64"/>
<circle cx="947.5" cy="838.5" r="10.0" fill="#fff"/><circle cx="947.5" cy="838.5" r="5.64"/>
<circle cx="951.5" cy="838.5" r="10.0" fill="#fff"/><circle cx="951.5" cy="838.5" r="5.64"/>
<circle cx="956.5" cy="838.5" r="10.0" fill="#fff"/><circle cx="956.5" cy="838.5" r="5.64"/>
</g>
<rect x="944" y="65" width="216" height="59.5" fill="#fff"/>
<text x="1087.3" y="80.3" font-size="16" text-anchor="end" xml:space="preserve">TCP</text>
<path d="M1097.3 74.5H1145.5" stroke="#0060ad" stroke-width="2"/><circle cx="1121.5" cy="74.5" r="10.1" fill="#fff"/><circle cx="1121.5" cy="74.5" r="5.64" fill="#0060ad"/>
<text x="1087.3" y="99.3" font-size="16" text-anchor="end" xml:space="preserve">UDP</text>
<path d="M1097.3 93.5H1145.5" stroke="#ff7f0e" stroke-width="2"/><circle cx="1121.5" cy="93.5" r="10.1" fill="#fff"/><circle cx="1121.5" cy="93.5" r="5.64" fill="#ff7f0e"/>
<text x="1087.3" y="118.3" font-size="16" text-anchor="end" xml:space="preserve">IP (!TCP  !UDP)</text>
<path d="M1097.3 112.5H1145.5" stroke="#2ca02c" stroke-width="2"/><circle cx="1121.5" cy="112.5" r="10.1" fill="#fff"/><circle cx="1121.5" cy="112.5" r="5.64" fill="#2ca02c"/>
<path d="M95.5 57.5V838.5H1165.5" fill="none" stroke="#000" stroke-width="1" stroke-linecap="square"/>
<text x="86.8" y="845" font-size="16" text-anchor="end" letter-spacing="0.3">0</text>
<text x="86.8" y="733" font-size="16" text-anchor="end" letter-spacing="0.3">500</text>
<text x="86.8" y="622" font-size="16" text-anchor="end" letter-spacing="0.3">1000</text>
<text x="86.8" y="510" font-size="16" text-anchor="end" letter-spacing="0.3">1500</text>
<text x="86.8" y="398" font-size="16" text-anchor="end" letter-spacing="0.3">2000</text>
<text x="86.8" y="287" font-size="16" text-anchor="end" letter-spacing="0.3">2500</text>
<text x="86.8" y="175" font-size="16" text-anchor="end" letter-spacing="0.3">3000</text>
<text x="86.8" y="63" font-size="16" text-anchor="end" letter-spacing="0.3">3500</text>
<text x="98" y="864" font-size="16" text-anchor="middle" letter-spacing="0.3">0</text>
<text x="312.5" y="864" font-size="16" text-anchor="middle" letter-spacing="0.3">50</text>
<text x="526.9" y="864" font-size="16" text-anchor="middle" letter-spacing="0.3">100</text>
<text x="740.9" y="864" font-size="16" text-anchor="middle" letter-spacing="0.3">150</text>
<text x="954.9" y="864" font-size="16" text-anchor="middle" letter-spacing="0.3">200</text>
<text x="1168.9" y="864" font-size="16" text-anchor="middle" letter-spacing="0.3">250</text>
<text x="630.5" y="892" font-size="16" text-anchor="middle">Time (s)</text>
<text transform="translate(24 448) rotate(-90)" font-size="16" text-anchor="middle">Packets</text>
<text x="7.5" y="35" font-size="16">/mnt/stor0/searchlight/corpus/experiment<tspan font-size="12.8" dy="4.5">3</tspan><tspan dy="-4.5">/eth1</tspan><tspan font-size="12.8" dy="4.5">i</tspan><tspan dy="-4.5">nterface/exp-a-1080-dash-http1/1646704434-c0.caubryvid.hdumb.pharos-exp-a-1080-dash-http1.pcap</tspan></text>
</svg>
</body></html>
